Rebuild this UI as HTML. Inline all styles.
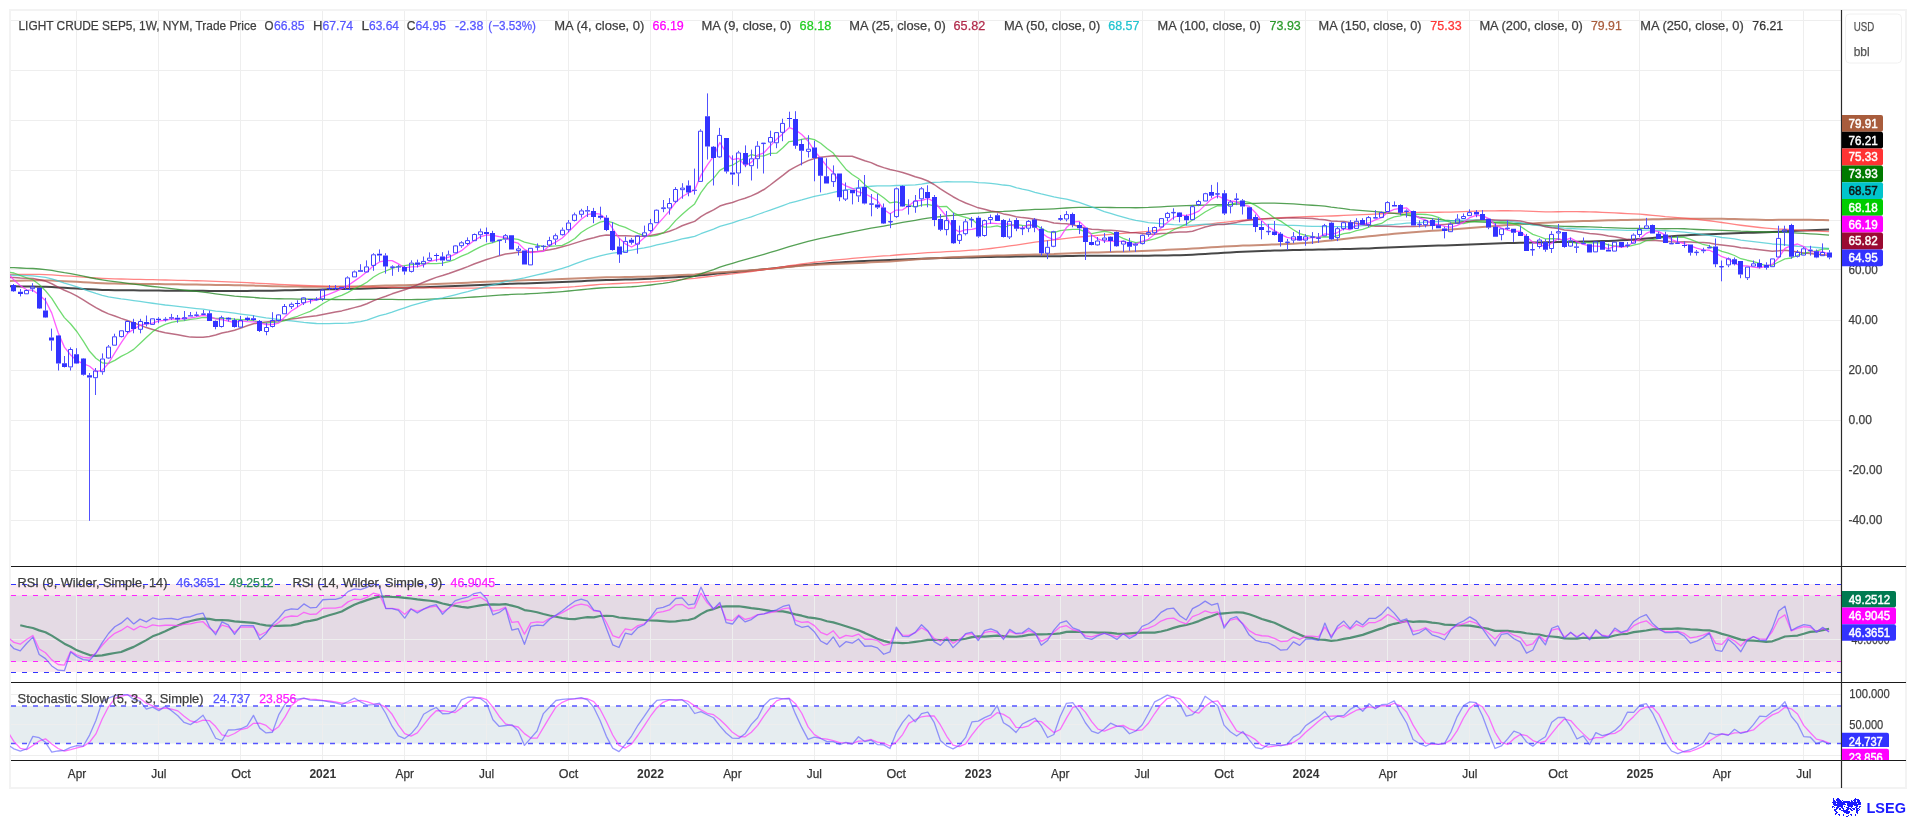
<!DOCTYPE html><html><head><meta charset="utf-8"><style>html,body{margin:0;padding:0;background:#fff;}svg{display:block;will-change:transform;}text{font-family:"Liberation Sans",sans-serif;}</style></head><body>
<svg width="1916" height="818" viewBox="0 0 1916 818">
<rect x="0" y="0" width="1916" height="818" fill="#fff"/>
<rect x="10" y="10" width="1896" height="778" fill="none" stroke="#f3f3f3" stroke-width="2"/>
<defs><clipPath id="pc"><rect x="10" y="11" width="1830" height="555"/></clipPath><clipPath id="rc"><rect x="10" y="567" width="1830" height="115"/></clipPath><clipPath id="sc"><rect x="10" y="683" width="1830" height="77"/></clipPath></defs>
<rect x="10" y="584" width="1831" height="88" fill="#f9eaf0"/>
<rect x="10" y="595.5" width="1831" height="66" fill="#e4dae4"/>
<rect x="10" y="706" width="1831" height="37.5" fill="#e6edf0"/>
<path d="M76.5,11V760M158.5,11V760M240.5,11V760M322.5,11V760M404.5,11V760M486.5,11V760M568.5,11V760M650.5,11V760M732.5,11V760M814.5,11V760M896.5,11V760M978.5,11V760M1060.5,11V760M1142.5,11V760M1224.5,11V760M1305.5,11V760M1387.5,11V760M1469.5,11V760M1558.5,11V760M1639.5,11V760M1721.5,11V760M1803.5,11V760" stroke="#eeeeee" stroke-width="1" fill="none"/>
<path d="M11,20.5H1841M11,70.5H1841M11,120.5H1841M11,170.5H1841M11,220.5H1841M11,269.5H1841M11,320.5H1841M11,370.5H1841M11,420.5H1841M11,470.5H1841M11,520.5H1841M11,639.5H1841M11,694.5H1841M11,724.5H1841M11,755.5H1841" stroke="#eeeeee" stroke-width="1" fill="none"/>
<path d="M11,584.5H1841M11,672.5H1841" stroke="#3333ff" stroke-width="1" stroke-dasharray="5,6" fill="none"/>
<path d="M11,595.5H1841M11,661.5H1841" stroke="#ff22ff" stroke-width="1" stroke-dasharray="5,6" fill="none"/>
<path d="M11,706H1841M11,743.5H1841" stroke="#5555ff" stroke-width="1.3" stroke-dasharray="5,6" fill="none"/>
<g clip-path="url(#pc)" fill="none" stroke-linejoin="round">
<path d="M7.67,286.32 L13.97,286.35 L20.27,286.39 L26.57,286.42 L32.88,286.48 L39.18,286.63 L45.48,286.81 L51.78,287.09 L58.09,287.46 L64.39,287.85 L70.69,288.17 L76.99,288.54 L83.30,288.96 L89.60,289.30 L95.90,289.61 L102.20,289.88 L108.51,290.10 L114.81,290.19 L121.11,290.26 L127.41,290.30 L133.72,290.37 L140.02,290.40 L146.32,290.48 L152.62,290.53 L158.93,290.58 L165.23,290.63 L171.53,290.69 L177.83,290.75 L184.13,290.81 L190.44,290.86 L196.74,290.86 L203.04,290.86 L209.34,290.89 L215.65,290.94 L221.95,290.96 L228.25,290.93 L234.55,290.93 L240.86,290.91 L247.16,290.88 L253.46,290.80 L259.76,290.76 L266.07,290.71 L272.37,290.63 L278.67,290.51 L284.97,290.36 L291.28,290.20 L297.58,290.04 L303.88,289.86 L310.18,289.75 L316.49,289.65 L322.79,289.50 L329.09,289.36 L335.39,289.24 L341.69,289.12 L348.00,288.96 L354.30,288.77 L360.60,288.65 L366.90,288.50 L373.21,288.31 L379.51,288.12 L385.81,287.98 L392.11,287.85 L398.42,287.73 L404.72,287.63 L411.02,287.49 L417.32,287.31 L423.63,287.13 L429.93,286.93 L436.23,286.72 L442.53,286.53 L448.84,286.32 L455.14,286.07 L461.44,285.81 L467.74,285.54 L474.05,285.25 L480.35,284.94 L486.65,284.65 L492.95,284.40 L499.25,284.17 L505.56,283.94 L511.86,283.75 L518.16,283.57 L524.46,283.44 L530.77,283.22 L537.07,282.98 L543.37,282.74 L549.67,282.48 L555.98,282.27 L562.28,282.03 L568.58,281.76 L574.88,281.46 L581.19,281.15 L587.49,280.84 L593.79,280.56 L600.09,280.27 L606.40,280.04 L612.70,279.90 L619.00,279.77 L625.30,279.59 L631.61,279.42 L637.91,279.18 L644.21,278.92 L650.51,278.63 L656.81,278.28 L663.12,277.94 L669.42,277.59 L675.72,277.18 L682.02,276.76 L688.33,276.34 L694.63,275.91 L700.93,275.24 L707.23,274.63 L713.54,274.07 L719.84,273.38 L726.14,272.84 L732.44,272.32 L738.75,271.70 L745.05,271.14 L751.35,270.57 L757.65,269.94 L763.96,269.30 L770.26,268.63 L776.56,267.96 L782.86,267.26 L789.17,266.53 L795.47,265.92 L801.77,265.34 L808.07,264.76 L814.37,264.21 L820.68,263.73 L826.98,263.30 L833.28,262.83 L839.58,262.46 L845.89,262.06 L852.19,261.67 L858.49,261.31 L864.79,261.01 L871.10,260.71 L877.40,260.43 L883.70,260.22 L890.00,260.01 L896.31,259.66 L902.61,259.39 L908.91,259.17 L915.21,258.94 L921.52,258.65 L927.82,258.40 L934.12,258.24 L940.42,258.10 L946.73,257.93 L953.03,257.84 L959.33,257.72 L965.63,257.56 L971.93,257.38 L978.24,257.28 L984.54,257.11 L990.84,256.96 L997.14,256.83 L1003.45,256.76 L1009.75,256.63 L1016.05,256.53 L1022.35,256.46 L1028.66,256.37 L1034.96,256.30 L1041.26,256.34 L1047.56,256.33 L1053.87,256.25 L1060.17,256.13 L1066.47,255.98 L1072.77,255.91 L1079.08,255.86 L1085.38,255.86 L1091.68,255.87 L1097.98,255.86 L1104.29,255.82 L1110.59,255.78 L1116.89,255.77 L1123.19,255.74 L1129.49,255.75 L1135.80,255.75 L1142.10,255.71 L1148.40,255.66 L1154.70,255.60 L1161.01,255.50 L1167.31,255.38 L1173.61,255.26 L1179.91,255.16 L1186.22,254.93 L1192.52,254.65 L1198.82,254.35 L1205.12,254.01 L1211.43,253.61 L1217.73,253.20 L1224.03,252.87 L1230.33,252.49 L1236.64,252.10 L1242.94,251.77 L1249.24,251.48 L1255.54,251.22 L1261.85,250.98 L1268.15,250.77 L1274.45,250.59 L1280.75,250.43 L1287.05,250.26 L1293.36,250.11 L1299.66,249.98 L1305.96,249.83 L1312.26,249.68 L1318.57,249.59 L1324.87,249.45 L1331.17,249.37 L1337.47,249.24 L1343.78,249.09 L1350.08,248.94 L1356.38,248.75 L1362.68,248.58 L1368.99,248.38 L1375.29,248.12 L1381.59,247.83 L1387.89,247.51 L1394.20,247.21 L1400.50,246.95 L1406.80,246.69 L1413.10,246.49 L1419.41,246.28 L1425.71,246.06 L1432.01,245.83 L1438.31,245.61 L1444.61,245.40 L1450.92,245.17 L1457.22,244.93 L1463.52,244.66 L1469.82,244.41 L1476.13,244.15 L1482.43,243.88 L1488.73,243.66 L1495.03,243.47 L1501.34,243.27 L1507.64,243.07 L1513.94,242.89 L1520.24,242.73 L1526.55,242.64 L1532.85,242.51 L1539.15,242.38 L1545.45,242.30 L1551.76,242.16 L1558.06,242.03 L1564.36,241.97 L1570.66,241.84 L1576.97,241.74 L1583.27,241.57 L1589.57,241.42 L1595.87,241.21 L1602.17,241.05 L1608.48,240.91 L1614.78,240.64 L1621.08,240.36 L1627.38,239.98 L1633.69,239.46 L1639.99,238.91 L1646.29,238.41 L1652.59,237.89 L1658.90,237.35 L1665.20,236.81 L1671.50,236.30 L1677.80,235.84 L1684.11,235.43 L1690.41,235.10 L1696.71,234.78 L1703.01,234.50 L1709.32,234.17 L1715.62,233.94 L1721.92,233.71 L1728.22,233.47 L1734.53,233.25 L1740.83,233.07 L1747.13,232.86 L1753.43,232.64 L1759.73,232.44 L1766.04,232.24 L1772.34,232.02 L1778.64,231.72 L1784.94,231.35 L1791.25,231.07 L1797.55,230.81 L1803.85,230.52 L1810.15,230.21 L1816.46,229.96 L1822.76,229.69 L1829.06,229.44" stroke="#333333" stroke-width="2.0" stroke-opacity="0.9"/>
<path d="M7.67,280.98 L13.97,280.80 L20.27,280.69 L26.57,280.55 L32.88,280.39 L39.18,280.35 L45.48,280.42 L51.78,280.61 L58.09,280.91 L64.39,281.24 L70.69,281.47 L76.99,281.80 L83.30,282.18 L89.60,282.58 L95.90,282.95 L102.20,283.20 L108.51,283.40 L114.81,283.54 L121.11,283.65 L127.41,283.72 L133.72,283.82 L140.02,283.89 L146.32,283.97 L152.62,284.03 L158.93,284.09 L165.23,284.15 L171.53,284.21 L177.83,284.28 L184.13,284.39 L190.44,284.50 L196.74,284.60 L203.04,284.69 L209.34,284.82 L215.65,284.93 L221.95,284.99 L228.25,285.06 L234.55,285.16 L240.86,285.32 L247.16,285.47 L253.46,285.62 L259.76,285.83 L266.07,286.02 L272.37,286.18 L278.67,286.31 L284.97,286.40 L291.28,286.48 L297.58,286.57 L303.88,286.63 L310.18,286.70 L316.49,286.76 L322.79,286.73 L329.09,286.69 L335.39,286.66 L341.69,286.61 L348.00,286.54 L354.30,286.44 L360.60,286.34 L366.90,286.21 L373.21,285.99 L379.51,285.78 L385.81,285.62 L392.11,285.46 L398.42,285.30 L404.72,285.13 L411.02,284.91 L417.32,284.70 L423.63,284.47 L429.93,284.24 L436.23,284.01 L442.53,283.80 L448.84,283.55 L455.14,283.27 L461.44,282.98 L467.74,282.68 L474.05,282.35 L480.35,282.01 L486.65,281.71 L492.95,281.44 L499.25,281.17 L505.56,280.87 L511.86,280.66 L518.16,280.45 L524.46,280.32 L530.77,280.11 L537.07,279.89 L543.37,279.73 L549.67,279.54 L555.98,279.33 L562.28,279.08 L568.58,278.82 L574.88,278.52 L581.19,278.20 L587.49,277.88 L593.79,277.67 L600.09,277.45 L606.40,277.30 L612.70,277.25 L619.00,277.22 L625.30,277.11 L631.61,277.00 L637.91,276.86 L644.21,276.70 L650.51,276.50 L656.81,276.24 L663.12,275.96 L669.42,275.66 L675.72,275.34 L682.02,275.01 L688.33,274.70 L694.63,274.38 L700.93,273.77 L707.23,273.28 L713.54,272.85 L719.84,272.30 L726.14,271.93 L732.44,271.56 L738.75,271.07 L745.05,270.64 L751.35,270.19 L757.65,269.70 L763.96,269.21 L770.26,268.68 L776.56,268.13 L782.86,267.54 L789.17,266.88 L795.47,266.37 L801.77,265.87 L808.07,265.37 L814.37,264.94 L820.68,264.60 L826.98,264.30 L833.28,263.94 L839.58,263.72 L845.89,263.45 L852.19,263.21 L858.49,262.93 L864.79,262.74 L871.10,262.37 L877.40,262.02 L883.70,261.75 L890.00,261.47 L896.31,260.94 L902.61,260.49 L908.91,260.05 L915.21,259.57 L921.52,259.03 L927.82,258.57 L934.12,258.21 L940.42,257.91 L946.73,257.55 L953.03,257.36 L959.33,257.12 L965.63,256.82 L971.93,256.50 L978.24,256.31 L984.54,256.04 L990.84,255.76 L997.14,255.49 L1003.45,255.38 L1009.75,255.19 L1016.05,255.03 L1022.35,254.87 L1028.66,254.68 L1034.96,254.48 L1041.26,254.41 L1047.56,254.30 L1053.87,254.12 L1060.17,253.80 L1066.47,253.46 L1072.77,253.17 L1079.08,252.89 L1085.38,252.72 L1091.68,252.57 L1097.98,252.39 L1104.29,252.20 L1110.59,252.02 L1116.89,251.84 L1123.19,251.63 L1129.49,251.44 L1135.80,251.25 L1142.10,251.03 L1148.40,250.78 L1154.70,250.55 L1161.01,250.24 L1167.31,249.87 L1173.61,249.51 L1179.91,249.17 L1186.22,248.88 L1192.52,248.52 L1198.82,248.14 L1205.12,247.73 L1211.43,247.34 L1217.73,246.89 L1224.03,246.60 L1230.33,246.26 L1236.64,245.91 L1242.94,245.62 L1249.24,245.41 L1255.54,245.18 L1261.85,244.96 L1268.15,244.70 L1274.45,244.42 L1280.75,244.16 L1287.05,243.91 L1293.36,243.66 L1299.66,243.32 L1305.96,242.92 L1312.26,242.40 L1318.57,241.77 L1324.87,241.06 L1331.17,240.51 L1337.47,239.83 L1343.78,239.07 L1350.08,238.33 L1356.38,237.58 L1362.68,236.91 L1368.99,236.26 L1375.29,235.67 L1381.59,235.08 L1387.89,234.48 L1394.20,233.87 L1400.50,233.33 L1406.80,232.76 L1413.10,232.30 L1419.41,231.82 L1425.71,231.32 L1432.01,230.86 L1438.31,230.40 L1444.61,229.97 L1450.92,229.51 L1457.22,229.03 L1463.52,228.54 L1469.82,228.00 L1476.13,227.44 L1482.43,226.95 L1488.73,226.49 L1495.03,226.04 L1501.34,225.58 L1507.64,225.12 L1513.94,224.68 L1520.24,224.21 L1526.55,223.83 L1532.85,223.47 L1539.15,223.10 L1545.45,222.82 L1551.76,222.47 L1558.06,222.10 L1564.36,221.85 L1570.66,221.55 L1576.97,221.30 L1583.27,221.07 L1589.57,220.88 L1595.87,220.64 L1602.17,220.46 L1608.48,220.33 L1614.78,220.18 L1621.08,220.06 L1627.38,219.95 L1633.69,219.85 L1639.99,219.72 L1646.29,219.51 L1652.59,219.35 L1658.90,219.21 L1665.20,219.06 L1671.50,218.96 L1677.80,218.85 L1684.11,218.78 L1690.41,218.75 L1696.71,218.73 L1703.01,218.68 L1709.32,218.64 L1715.62,218.73 L1721.92,218.85 L1728.22,218.94 L1734.53,219.09 L1740.83,219.31 L1747.13,219.47 L1753.43,219.58 L1759.73,219.72 L1766.04,219.88 L1772.34,219.93 L1778.64,219.87 L1784.94,219.70 L1791.25,219.74 L1797.55,219.77 L1803.85,219.78 L1810.15,219.83 L1816.46,219.94 L1822.76,220.05 L1829.06,220.23" stroke="#c07a62" stroke-width="2.0" stroke-opacity="0.85"/>
<path d="M7.67,274.44 L13.97,274.40 L20.27,274.39 L26.57,274.35 L32.88,274.31 L39.18,274.42 L45.48,274.59 L51.78,274.92 L58.09,275.35 L64.39,275.81 L70.69,276.15 L76.99,276.59 L83.30,277.10 L89.60,277.57 L95.90,278.00 L102.20,278.34 L108.51,278.61 L114.81,278.83 L121.11,279.01 L127.41,279.13 L133.72,279.31 L140.02,279.43 L146.32,279.59 L152.62,279.72 L158.93,279.85 L165.23,279.98 L171.53,280.14 L177.83,280.30 L184.13,280.45 L190.44,280.59 L196.74,280.75 L203.04,280.91 L209.34,281.11 L215.65,281.35 L221.95,281.53 L228.25,281.81 L234.55,282.13 L240.86,282.41 L247.16,282.69 L253.46,283.00 L259.76,283.37 L266.07,283.72 L272.37,284.02 L278.67,284.38 L284.97,284.69 L291.28,284.98 L297.58,285.27 L303.88,285.52 L310.18,285.75 L316.49,285.98 L322.79,286.15 L329.09,286.32 L335.39,286.50 L341.69,286.66 L348.00,286.75 L354.30,286.81 L360.60,286.93 L366.90,287.02 L373.21,287.02 L379.51,287.03 L385.81,287.11 L392.11,287.26 L398.42,287.41 L404.72,287.59 L411.02,287.71 L417.32,287.81 L423.63,287.89 L429.93,287.94 L436.23,287.98 L442.53,288.10 L448.84,288.19 L455.14,288.21 L461.44,288.21 L467.74,288.20 L474.05,288.10 L480.35,287.98 L486.65,287.88 L492.95,287.83 L499.25,287.80 L505.56,287.74 L511.86,287.78 L518.16,287.80 L524.46,287.95 L530.77,287.99 L537.07,288.01 L543.37,288.04 L549.67,288.02 L555.98,287.74 L562.28,287.43 L568.58,287.07 L574.88,286.65 L581.19,286.08 L587.49,285.52 L593.79,284.99 L600.09,284.47 L606.40,284.03 L612.70,283.76 L619.00,283.52 L625.30,283.18 L631.61,282.86 L637.91,282.55 L644.21,282.22 L650.51,281.83 L656.81,281.34 L663.12,280.90 L669.42,280.43 L675.72,279.86 L682.02,279.28 L688.33,278.84 L694.63,278.38 L700.93,277.51 L707.23,276.76 L713.54,276.08 L719.84,275.20 L726.14,274.56 L732.44,273.94 L738.75,273.17 L745.05,272.38 L751.35,271.55 L757.65,270.64 L763.96,269.70 L770.26,268.78 L776.56,267.82 L782.86,266.80 L789.17,265.75 L795.47,264.88 L801.77,264.00 L808.07,263.10 L814.37,262.26 L820.68,261.56 L826.98,260.92 L833.28,260.20 L839.58,259.68 L845.89,259.08 L852.19,258.46 L858.49,257.82 L864.79,257.28 L871.10,256.78 L877.40,256.31 L883.70,255.95 L890.00,255.59 L896.31,255.01 L902.61,254.51 L908.91,254.08 L915.21,253.62 L921.52,253.09 L927.82,252.64 L934.12,252.36 L940.42,252.08 L946.73,251.72 L953.03,251.45 L959.33,251.07 L965.63,250.59 L971.93,250.11 L978.24,249.78 L984.54,249.19 L990.84,248.52 L997.14,247.73 L1003.45,246.88 L1009.75,245.91 L1016.05,245.11 L1022.35,244.20 L1028.66,243.18 L1034.96,242.18 L1041.26,241.40 L1047.56,240.65 L1053.87,239.88 L1060.17,239.10 L1066.47,238.32 L1072.77,237.68 L1079.08,237.01 L1085.38,236.48 L1091.68,235.95 L1097.98,235.43 L1104.29,234.88 L1110.59,234.36 L1116.89,233.88 L1123.19,233.36 L1129.49,232.89 L1135.80,232.40 L1142.10,231.87 L1148.40,231.33 L1154.70,230.70 L1161.01,229.98 L1167.31,229.28 L1173.61,228.56 L1179.91,227.83 L1186.22,227.17 L1192.52,226.41 L1198.82,225.61 L1205.12,224.69 L1211.43,223.82 L1217.73,222.97 L1224.03,222.30 L1230.33,221.60 L1236.64,220.90 L1242.94,220.25 L1249.24,219.73 L1255.54,219.25 L1261.85,218.79 L1268.15,218.39 L1274.45,218.04 L1280.75,217.72 L1287.05,217.42 L1293.36,217.15 L1299.66,216.94 L1305.96,216.70 L1312.26,216.50 L1318.57,216.39 L1324.87,216.19 L1331.17,216.01 L1337.47,215.75 L1343.78,215.45 L1350.08,215.17 L1356.38,214.89 L1362.68,214.63 L1368.99,214.34 L1375.29,214.07 L1381.59,213.77 L1387.89,213.38 L1394.20,213.06 L1400.50,212.85 L1406.80,212.63 L1413.10,212.54 L1419.41,212.47 L1425.71,212.39 L1432.01,212.34 L1438.31,212.25 L1444.61,212.19 L1450.92,212.12 L1457.22,211.91 L1463.52,211.69 L1469.82,211.34 L1476.13,211.12 L1482.43,210.95 L1488.73,210.82 L1495.03,210.80 L1501.34,210.75 L1507.64,210.74 L1513.94,210.81 L1520.24,210.95 L1526.55,211.22 L1532.85,211.47 L1539.15,211.62 L1545.45,211.83 L1551.76,211.86 L1558.06,211.74 L1564.36,211.69 L1570.66,211.68 L1576.97,211.72 L1583.27,211.77 L1589.57,211.90 L1595.87,212.02 L1602.17,212.29 L1608.48,212.58 L1614.78,212.84 L1621.08,213.23 L1627.38,213.61 L1633.69,213.89 L1639.99,214.14 L1646.29,214.77 L1652.59,215.35 L1658.90,215.89 L1665.20,216.61 L1671.50,217.09 L1677.80,217.54 L1684.11,218.17 L1690.41,218.75 L1696.71,219.38 L1703.01,220.07 L1709.32,220.77 L1715.62,221.61 L1721.92,222.51 L1728.22,223.41 L1734.53,224.38 L1740.83,225.24 L1747.13,226.01 L1753.43,226.77 L1759.73,227.50 L1766.04,228.12 L1772.34,228.62 L1778.64,229.05 L1784.94,229.26 L1791.25,229.71 L1797.55,230.10 L1803.85,230.50 L1810.15,230.81 L1816.46,231.17 L1822.76,231.47 L1829.06,231.70" stroke="#ff5050" stroke-width="1.3" stroke-opacity="0.7"/>
<path d="M7.67,267.43 L13.97,267.70 L20.27,268.01 L26.57,268.29 L32.88,268.52 L39.18,268.98 L45.48,269.61 L51.78,270.48 L58.09,271.58 L64.39,272.71 L70.69,273.67 L76.99,274.86 L83.30,276.16 L89.60,277.49 L95.90,278.75 L102.20,279.84 L108.51,280.80 L114.81,281.67 L121.11,282.48 L127.41,283.27 L133.72,284.14 L140.02,284.93 L146.32,285.75 L152.62,286.51 L158.93,287.22 L165.23,287.91 L171.53,288.61 L177.83,289.31 L184.13,290.04 L190.44,290.77 L196.74,291.47 L203.04,292.16 L209.34,292.95 L215.65,293.79 L221.95,294.54 L228.25,295.31 L234.55,296.15 L240.86,296.58 L247.16,297.01 L253.46,297.45 L259.76,297.98 L266.07,298.30 L272.37,298.54 L278.67,298.73 L284.97,298.83 L291.28,298.91 L297.58,299.04 L303.88,299.10 L310.18,299.19 L316.49,299.27 L322.79,299.34 L329.09,299.41 L335.39,299.48 L341.69,299.53 L348.00,299.56 L354.30,299.54 L360.60,299.51 L366.90,299.44 L373.21,299.38 L379.51,299.34 L385.81,299.41 L392.11,299.47 L398.42,299.55 L404.72,299.59 L411.02,299.54 L417.32,299.51 L423.63,299.45 L429.93,299.19 L436.23,298.93 L442.53,298.70 L448.84,298.42 L455.14,298.12 L461.44,297.78 L467.74,297.42 L474.05,297.00 L480.35,296.55 L486.65,296.06 L492.95,295.65 L499.25,295.21 L505.56,294.74 L511.86,294.46 L518.16,294.12 L524.46,294.02 L530.77,293.70 L537.07,293.29 L543.37,292.93 L549.67,292.48 L555.98,292.05 L562.28,291.56 L568.58,291.02 L574.88,290.41 L581.19,289.76 L587.49,289.06 L593.79,288.52 L600.09,288.00 L606.40,287.61 L612.70,287.46 L619.00,287.39 L625.30,287.08 L631.61,286.77 L637.91,286.29 L644.21,285.70 L650.51,284.99 L656.81,284.19 L663.12,283.40 L669.42,282.34 L675.72,281.06 L682.02,279.53 L688.33,277.82 L694.63,276.06 L700.93,273.87 L707.23,271.70 L713.54,269.53 L719.84,267.11 L726.14,265.12 L732.44,263.28 L738.75,261.33 L745.05,259.62 L751.35,257.90 L757.65,256.14 L763.96,254.28 L770.26,252.44 L776.56,250.52 L782.86,248.56 L789.17,246.55 L795.47,244.82 L801.77,243.14 L808.07,241.44 L814.37,239.84 L820.68,238.43 L826.98,237.12 L833.28,235.72 L839.58,234.49 L845.89,233.11 L852.19,231.87 L858.49,230.56 L864.79,229.32 L871.10,228.16 L877.40,227.03 L883.70,226.06 L890.00,224.96 L896.31,223.58 L902.61,222.44 L908.91,221.37 L915.21,220.31 L921.52,219.16 L927.82,218.10 L934.12,217.32 L940.42,216.63 L946.73,215.84 L953.03,215.38 L959.33,214.83 L965.63,214.15 L971.93,213.47 L978.24,213.06 L984.54,212.55 L990.84,212.00 L997.14,211.55 L1003.45,211.38 L1009.75,211.03 L1016.05,210.66 L1022.35,210.27 L1028.66,209.81 L1034.96,209.37 L1041.26,209.28 L1047.56,209.10 L1053.87,208.80 L1060.17,208.40 L1066.47,207.98 L1072.77,207.63 L1079.08,207.37 L1085.38,207.33 L1091.68,207.36 L1097.98,207.36 L1104.29,207.40 L1110.59,207.49 L1116.89,207.62 L1123.19,207.60 L1129.49,207.67 L1135.80,207.76 L1142.10,207.61 L1148.40,207.45 L1154.70,207.07 L1161.01,206.78 L1167.31,206.44 L1173.61,206.10 L1179.91,205.87 L1186.22,205.72 L1192.52,205.48 L1198.82,205.27 L1205.12,205.05 L1211.43,204.91 L1217.73,204.72 L1224.03,204.69 L1230.33,204.53 L1236.64,204.21 L1242.94,203.77 L1249.24,203.42 L1255.54,203.28 L1261.85,203.15 L1268.15,203.11 L1274.45,203.14 L1280.75,203.32 L1287.05,203.64 L1293.36,203.93 L1299.66,204.31 L1305.96,204.78 L1312.26,205.27 L1318.57,205.72 L1324.87,206.06 L1331.17,207.15 L1337.47,207.97 L1343.78,208.61 L1350.08,209.55 L1356.38,210.05 L1362.68,210.55 L1368.99,211.20 L1375.29,211.72 L1381.59,212.26 L1387.89,212.82 L1394.20,213.46 L1400.50,214.22 L1406.80,215.00 L1413.10,216.03 L1419.41,217.08 L1425.71,217.82 L1432.01,218.58 L1438.31,219.37 L1444.61,220.10 L1450.92,220.58 L1457.22,220.93 L1463.52,221.36 L1469.82,221.51 L1476.13,221.76 L1482.43,222.03 L1488.73,222.42 L1495.03,222.76 L1501.34,223.01 L1507.64,223.21 L1513.94,223.30 L1520.24,223.45 L1526.55,224.08 L1532.85,224.50 L1539.15,224.83 L1545.45,225.32 L1551.76,225.78 L1558.06,226.11 L1564.36,226.38 L1570.66,226.48 L1576.97,226.76 L1583.27,226.76 L1589.57,226.94 L1595.87,227.14 L1602.17,227.45 L1608.48,227.60 L1614.78,227.81 L1621.08,228.11 L1627.38,228.35 L1633.69,228.32 L1639.99,228.40 L1646.29,228.37 L1652.59,228.43 L1658.90,228.61 L1665.20,228.76 L1671.50,228.65 L1677.80,228.61 L1684.11,228.76 L1690.41,229.10 L1696.71,229.48 L1703.01,229.73 L1709.32,229.91 L1715.62,230.14 L1721.92,230.35 L1728.22,230.53 L1734.53,230.79 L1740.83,231.13 L1747.13,231.33 L1753.43,231.56 L1759.73,231.76 L1766.04,232.01 L1772.34,232.24 L1778.64,232.30 L1784.94,232.32 L1791.25,232.71 L1797.55,233.10 L1803.85,233.47 L1810.15,233.79 L1816.46,234.16 L1822.76,234.62 L1829.06,235.19" stroke="#2a8a2a" stroke-width="1.3" stroke-opacity="0.8"/>
<path d="M7.67,275.08 L13.97,275.26 L20.27,275.50 L26.57,275.66 L32.88,275.91 L39.18,276.60 L45.48,277.46 L51.78,278.79 L58.09,280.87 L64.39,283.02 L70.69,284.80 L76.99,286.88 L83.30,289.18 L89.60,291.38 L95.90,293.44 L102.20,295.26 L108.51,296.84 L114.81,297.91 L121.11,298.86 L127.41,299.63 L133.72,300.55 L140.02,301.45 L146.32,302.42 L152.62,303.26 L158.93,304.14 L165.23,305.00 L171.53,305.70 L177.83,306.44 L184.13,307.11 L190.44,307.80 L196.74,308.53 L203.04,309.15 L209.34,310.08 L215.65,311.03 L221.95,311.62 L228.25,312.35 L234.55,313.19 L240.86,314.04 L247.16,314.86 L253.46,315.73 L259.76,316.84 L266.07,317.88 L272.37,318.65 L278.67,319.51 L284.97,320.24 L291.28,320.94 L297.58,321.72 L303.88,322.43 L310.18,322.98 L316.49,323.50 L322.79,323.61 L329.09,323.56 L335.39,323.46 L341.69,323.40 L348.00,323.22 L354.30,322.48 L360.60,321.57 L366.90,320.08 L373.21,317.90 L379.51,315.67 L385.81,314.01 L392.11,312.07 L398.42,309.92 L404.72,307.80 L411.02,305.64 L417.32,303.77 L423.63,302.05 L429.93,300.48 L436.23,298.99 L442.53,297.78 L448.84,296.29 L455.14,294.78 L461.44,293.14 L467.74,291.58 L474.05,289.86 L480.35,288.11 L486.65,286.42 L492.95,284.86 L499.25,283.31 L505.56,281.68 L511.86,280.39 L518.16,279.09 L524.46,277.96 L530.77,276.37 L537.07,274.95 L543.37,273.50 L549.67,271.76 L555.98,270.07 L562.28,268.26 L568.58,266.31 L574.88,263.98 L581.19,261.64 L587.49,259.48 L593.79,257.53 L600.09,255.76 L606.40,254.28 L612.70,253.20 L619.00,252.34 L625.30,251.17 L631.61,250.05 L637.91,248.97 L644.21,247.83 L650.51,246.52 L656.81,244.97 L663.12,243.57 L669.42,242.20 L675.72,240.55 L682.02,238.97 L688.33,237.74 L694.63,236.44 L700.93,233.73 L707.23,231.33 L713.54,229.14 L719.84,226.41 L726.14,224.59 L732.44,222.78 L738.75,220.61 L745.05,218.75 L751.35,216.80 L757.65,214.50 L763.96,212.26 L770.26,210.10 L776.56,207.89 L782.86,205.55 L789.17,203.24 L795.47,201.53 L801.77,199.87 L808.07,198.01 L814.37,196.37 L820.68,195.18 L826.98,193.86 L833.28,192.36 L839.58,191.01 L845.89,189.85 L852.19,188.79 L858.49,187.61 L864.79,186.88 L871.10,186.24 L877.40,185.80 L883.70,185.82 L890.00,185.95 L896.31,185.51 L902.61,185.41 L908.91,185.20 L915.21,184.86 L921.52,184.03 L927.82,182.99 L934.12,182.30 L940.42,182.08 L946.73,181.63 L953.03,181.78 L959.33,181.82 L965.63,181.78 L971.93,181.97 L978.24,182.55 L984.54,182.90 L990.84,183.46 L997.14,184.13 L1003.45,185.02 L1009.75,185.62 L1016.05,187.58 L1022.35,189.21 L1028.66,190.47 L1034.96,192.33 L1041.26,193.96 L1047.56,195.41 L1053.87,196.98 L1060.17,198.06 L1066.47,199.17 L1072.77,200.75 L1079.08,202.47 L1085.38,204.57 L1091.68,206.82 L1097.98,209.17 L1104.29,211.55 L1110.59,213.45 L1116.89,215.36 L1123.19,217.20 L1129.49,218.98 L1135.80,220.34 L1142.10,221.36 L1148.40,222.54 L1154.70,223.13 L1161.01,223.70 L1167.31,224.09 L1173.61,224.58 L1179.91,224.85 L1186.22,225.19 L1192.52,225.16 L1198.82,224.71 L1205.12,224.16 L1211.43,224.31 L1217.73,224.04 L1224.03,224.17 L1230.33,224.19 L1236.64,224.39 L1242.94,224.56 L1249.24,224.54 L1255.54,224.49 L1261.85,224.68 L1268.15,224.43 L1274.45,224.45 L1280.75,224.86 L1287.05,225.32 L1293.36,225.31 L1299.66,225.72 L1305.96,226.11 L1312.26,226.41 L1318.57,226.42 L1324.87,226.50 L1331.17,226.71 L1337.47,226.72 L1343.78,226.75 L1350.08,226.78 L1356.38,226.13 L1362.68,225.69 L1368.99,225.41 L1375.29,225.39 L1381.59,225.35 L1387.89,224.89 L1394.20,224.46 L1400.50,223.87 L1406.80,223.19 L1413.10,222.89 L1419.41,222.61 L1425.71,222.19 L1432.01,221.79 L1438.31,221.54 L1444.61,221.23 L1450.92,220.83 L1457.22,220.51 L1463.52,220.19 L1469.82,219.89 L1476.13,219.82 L1482.43,219.96 L1488.73,220.27 L1495.03,220.66 L1501.34,220.83 L1507.64,221.26 L1513.94,221.89 L1520.24,222.74 L1526.55,223.85 L1532.85,224.96 L1539.15,225.49 L1545.45,226.45 L1551.76,227.16 L1558.06,227.66 L1564.36,228.21 L1570.66,228.48 L1576.97,228.84 L1583.27,229.08 L1589.57,229.43 L1595.87,229.42 L1602.17,229.58 L1608.48,229.89 L1614.78,229.91 L1621.08,230.12 L1627.38,230.28 L1633.69,230.23 L1639.99,230.30 L1646.29,230.03 L1652.59,230.13 L1658.90,230.46 L1665.20,230.74 L1671.50,231.18 L1677.80,231.53 L1684.11,232.10 L1690.41,232.82 L1696.71,233.61 L1703.01,234.56 L1709.32,235.37 L1715.62,236.40 L1721.92,237.51 L1728.22,238.17 L1734.53,238.98 L1740.83,240.07 L1747.13,240.88 L1753.43,241.58 L1759.73,242.30 L1766.04,243.18 L1772.34,243.98 L1778.64,244.42 L1784.94,244.76 L1791.25,245.61 L1797.55,246.25 L1803.85,246.66 L1810.15,246.92 L1816.46,247.50 L1822.76,247.99 L1829.06,248.48" stroke="#40c8d0" stroke-width="1.3" stroke-opacity="0.75"/>
<path d="M7.67,277.28 L13.97,277.60 L20.27,278.07 L26.57,278.31 L32.88,278.49 L39.18,279.70 L45.48,281.10 L51.78,283.75 L58.09,287.10 L64.39,290.28 L70.69,292.93 L76.99,296.07 L83.30,299.95 L89.60,303.89 L95.90,307.66 L102.20,310.99 L108.51,313.85 L114.81,316.03 L121.11,318.39 L127.41,320.44 L133.72,322.87 L140.02,325.10 L146.32,327.59 L152.62,329.45 L158.93,331.32 L165.23,332.71 L171.53,333.80 L177.83,334.82 L184.13,335.91 L190.44,337.12 L196.74,337.36 L203.04,337.20 L209.34,336.42 L215.65,334.95 L221.95,332.96 L228.25,331.78 L234.55,330.31 L240.86,328.12 L247.16,325.82 L253.46,323.80 L259.76,322.70 L266.07,321.92 L272.37,321.27 L278.67,320.63 L284.97,320.03 L291.28,319.02 L297.58,318.35 L303.88,317.27 L310.18,316.52 L316.49,315.68 L322.79,314.50 L329.09,313.32 L335.39,312.10 L341.69,310.89 L348.00,309.32 L354.30,307.60 L360.60,305.94 L366.90,303.75 L373.21,300.84 L379.51,298.37 L385.81,296.25 L392.11,293.83 L398.42,291.72 L404.72,289.78 L411.02,287.48 L417.32,284.83 L423.63,282.19 L429.93,279.69 L436.23,277.36 L442.53,275.54 L448.84,273.56 L455.14,271.21 L461.44,269.01 L467.74,266.64 L474.05,264.04 L480.35,261.71 L486.65,259.51 L492.95,257.62 L499.25,255.74 L505.56,254.05 L511.86,253.17 L518.16,252.24 L524.46,252.16 L530.77,251.90 L537.07,251.54 L543.37,250.75 L549.67,249.70 L555.98,248.41 L562.28,246.74 L568.58,245.14 L574.88,243.12 L581.19,241.10 L587.49,239.26 L593.79,237.70 L600.09,235.99 L606.40,235.01 L612.70,235.19 L619.00,235.68 L625.30,235.71 L631.61,236.06 L637.91,236.22 L644.21,236.15 L650.51,235.41 L656.81,234.21 L663.12,233.10 L669.42,231.24 L675.72,228.86 L682.02,225.78 L688.33,223.57 L694.63,221.35 L700.93,216.71 L707.23,212.96 L713.54,209.88 L719.84,206.08 L726.14,204.04 L732.44,202.45 L738.75,200.13 L745.05,198.24 L751.35,195.89 L757.65,193.01 L763.96,189.52 L770.26,185.00 L776.56,180.11 L782.86,175.39 L789.17,170.43 L795.47,166.84 L801.77,163.58 L808.07,160.60 L814.37,158.53 L820.68,157.27 L826.98,156.48 L833.28,155.86 L839.58,156.24 L845.89,156.13 L852.19,156.23 L858.49,158.51 L864.79,160.80 L871.10,162.61 L877.40,165.52 L883.70,167.60 L890.00,169.46 L896.31,170.89 L902.61,172.57 L908.91,174.52 L915.21,176.71 L921.52,178.54 L927.82,180.98 L934.12,184.50 L940.42,188.77 L946.73,192.82 L953.03,196.72 L959.33,200.06 L965.63,202.96 L971.93,205.40 L978.24,207.84 L984.54,209.31 L990.84,211.05 L997.14,212.01 L1003.45,213.90 L1009.75,215.01 L1016.05,216.65 L1022.35,217.62 L1028.66,218.32 L1034.96,219.14 L1041.26,220.33 L1047.56,221.36 L1053.87,223.08 L1060.17,223.54 L1066.47,223.83 L1072.77,224.80 L1079.08,226.40 L1085.38,228.16 L1091.68,229.15 L1097.98,229.58 L1104.29,230.28 L1110.59,230.18 L1116.89,230.66 L1123.19,231.44 L1129.49,232.55 L1135.80,232.83 L1142.10,233.42 L1148.40,234.02 L1154.70,234.26 L1161.01,233.50 L1167.31,233.18 L1173.61,232.50 L1179.91,232.08 L1186.22,232.05 L1192.52,231.18 L1198.82,229.10 L1205.12,226.95 L1211.43,225.54 L1217.73,224.54 L1224.03,224.52 L1230.33,223.58 L1236.64,222.39 L1242.94,220.97 L1249.24,219.94 L1255.54,219.40 L1261.85,219.09 L1268.15,218.68 L1274.45,218.24 L1280.75,218.29 L1287.05,218.08 L1293.36,217.79 L1299.66,218.02 L1305.96,218.19 L1312.26,218.56 L1318.57,219.34 L1324.87,219.83 L1331.17,220.92 L1337.47,221.37 L1343.78,221.45 L1350.08,222.37 L1356.38,223.16 L1362.68,224.43 L1368.99,225.28 L1375.29,226.24 L1381.59,226.18 L1387.89,226.20 L1394.20,226.53 L1400.50,226.78 L1406.80,226.43 L1413.10,226.38 L1419.41,226.13 L1425.71,225.70 L1432.01,225.34 L1438.31,224.79 L1444.61,224.38 L1450.92,223.87 L1457.22,222.99 L1463.52,222.18 L1469.82,221.21 L1476.13,220.30 L1482.43,220.09 L1488.73,219.62 L1495.03,219.96 L1501.34,220.21 L1507.64,220.14 L1513.94,220.62 L1520.24,221.06 L1526.55,222.42 L1532.85,223.69 L1539.15,224.79 L1545.45,226.70 L1551.76,227.80 L1558.06,228.54 L1564.36,230.00 L1570.66,230.58 L1576.97,231.55 L1583.27,232.45 L1589.57,233.52 L1595.87,234.04 L1602.17,234.78 L1608.48,235.90 L1614.78,236.82 L1621.08,238.06 L1627.38,239.36 L1633.69,240.16 L1639.99,240.52 L1646.29,240.43 L1652.59,240.30 L1658.90,240.72 L1665.20,241.33 L1671.50,241.74 L1677.80,242.00 L1684.11,241.79 L1690.41,241.94 L1696.71,242.43 L1703.01,242.42 L1709.32,242.94 L1715.62,244.26 L1721.92,245.02 L1728.22,245.75 L1734.53,246.40 L1740.83,247.68 L1747.13,248.24 L1753.43,249.12 L1759.73,249.82 L1766.04,250.47 L1772.34,251.14 L1778.64,250.78 L1784.94,250.17 L1791.25,251.06 L1797.55,251.98 L1803.85,252.89 L1810.15,253.54 L1816.46,254.28 L1822.76,254.64 L1829.06,255.23" stroke="#a03050" stroke-width="1.5" stroke-opacity="0.7"/>
<path d="M7.67,271.92 L13.97,273.00 L20.27,275.50 L26.57,277.76 L32.88,279.75 L39.18,284.55 L45.48,290.72 L51.78,298.34 L58.09,308.39 L64.39,317.61 L70.69,324.02 L76.99,331.76 L83.30,341.17 L89.60,351.31 L95.90,358.21 L102.20,362.78 L108.51,363.44 L114.81,360.41 L121.11,356.33 L127.41,353.22 L133.72,349.38 L140.02,343.41 L146.32,337.49 L152.62,331.69 L158.93,327.40 L165.23,324.32 L171.53,322.36 L177.83,321.14 L184.13,320.72 L190.44,319.34 L196.74,318.61 L203.04,317.39 L209.34,317.69 L215.65,318.48 L221.95,318.30 L228.25,318.39 L234.55,319.23 L240.86,319.54 L247.16,319.92 L253.46,320.56 L259.76,322.51 L266.07,323.18 L272.37,322.40 L278.67,322.09 L284.97,320.60 L291.28,318.02 L297.58,316.26 L303.88,313.74 L310.18,311.44 L316.49,307.89 L322.79,303.72 L329.09,300.28 L335.39,297.46 L341.69,295.32 L348.00,292.39 L354.30,288.76 L360.60,285.90 L366.90,282.23 L373.21,277.28 L379.51,273.49 L385.81,270.98 L392.11,268.47 L398.42,266.30 L404.72,265.63 L411.02,264.66 L417.32,263.89 L423.63,263.28 L429.93,263.64 L436.23,263.71 L442.53,263.06 L448.84,261.72 L455.14,259.29 L461.44,256.06 L467.74,253.56 L474.05,250.13 L480.35,246.84 L486.65,244.22 L492.95,242.64 L499.25,240.32 L505.56,238.19 L511.86,238.64 L518.16,239.32 L524.46,242.03 L530.77,243.57 L537.07,245.22 L543.37,246.63 L549.67,246.44 L555.98,245.96 L562.28,245.34 L568.58,242.34 L574.88,238.56 L581.19,232.54 L587.49,228.52 L593.79,225.28 L600.09,222.06 L606.40,220.92 L612.70,222.57 L619.00,225.31 L625.30,227.36 L631.61,230.51 L637.91,233.29 L644.21,235.59 L650.51,236.28 L656.81,235.39 L663.12,232.88 L669.42,227.66 L675.72,220.39 L682.02,214.47 L688.33,208.89 L694.63,203.92 L700.93,192.63 L707.23,184.10 L713.54,178.36 L719.84,170.31 L726.14,166.80 L732.44,165.19 L738.75,161.28 L745.05,158.16 L751.35,154.56 L757.65,156.22 L763.96,155.80 L770.26,153.47 L776.56,153.16 L782.86,147.77 L789.17,141.57 L795.47,140.83 L801.77,139.32 L808.07,138.26 L814.37,139.61 L820.68,143.29 L826.98,148.44 L833.28,153.03 L839.58,161.29 L845.89,169.18 L852.19,174.44 L858.49,178.54 L864.79,184.64 L871.10,189.69 L877.40,193.22 L883.70,197.67 L890.00,202.96 L896.31,201.97 L902.61,203.82 L908.91,205.34 L915.21,206.78 L921.52,205.08 L927.82,204.48 L934.12,205.88 L940.42,206.58 L946.73,206.48 L953.03,212.59 L959.33,215.68 L965.63,217.28 L971.93,219.31 L978.24,224.68 L984.54,227.14 L990.84,226.80 L997.14,225.84 L1003.45,227.73 L1009.75,225.24 L1016.05,224.63 L1022.35,225.36 L1028.66,225.58 L1034.96,224.60 L1041.26,228.28 L1047.56,231.59 L1053.87,232.71 L1060.17,230.59 L1066.47,229.83 L1072.77,229.40 L1079.08,229.46 L1085.38,231.79 L1091.68,233.69 L1097.98,232.28 L1104.29,231.24 L1110.59,232.33 L1116.89,235.47 L1123.19,238.42 L1129.49,240.86 L1135.80,242.56 L1142.10,241.77 L1148.40,240.33 L1154.70,238.83 L1161.01,236.68 L1167.31,233.56 L1173.61,229.74 L1179.91,227.12 L1186.22,224.18 L1192.52,220.02 L1198.82,216.27 L1205.12,211.96 L1211.43,208.49 L1217.73,205.72 L1224.03,205.78 L1230.33,204.62 L1236.64,202.54 L1242.94,201.01 L1249.24,202.46 L1255.54,205.33 L1261.85,209.41 L1268.15,213.30 L1274.45,217.96 L1280.75,221.12 L1287.05,225.57 L1293.36,229.78 L1299.66,233.58 L1305.96,235.48 L1312.26,236.52 L1318.57,237.36 L1324.87,236.73 L1331.17,237.20 L1337.47,235.68 L1343.78,233.53 L1350.08,232.76 L1356.38,230.56 L1362.68,229.28 L1368.99,227.14 L1375.29,224.89 L1381.59,223.42 L1387.89,219.29 L1394.20,216.88 L1400.50,215.82 L1406.80,213.73 L1413.10,214.27 L1419.41,214.14 L1425.71,214.48 L1432.01,215.47 L1438.31,217.27 L1444.61,220.49 L1450.92,222.40 L1457.22,223.06 L1463.52,223.67 L1469.82,222.17 L1476.13,221.14 L1482.43,221.13 L1488.73,221.31 L1495.03,222.26 L1501.34,221.96 L1507.64,222.39 L1513.94,223.96 L1520.24,226.17 L1526.55,230.49 L1532.85,234.32 L1539.15,236.49 L1545.45,238.96 L1551.76,238.64 L1558.06,238.96 L1564.36,241.11 L1570.66,241.96 L1576.97,243.28 L1583.27,242.36 L1589.57,242.76 L1595.87,242.96 L1602.17,242.94 L1608.48,244.91 L1614.78,246.08 L1621.08,246.07 L1627.38,246.53 L1633.69,245.07 L1639.99,243.54 L1646.29,240.52 L1652.59,239.64 L1658.90,238.44 L1665.20,237.48 L1671.50,237.61 L1677.80,237.12 L1684.11,237.26 L1690.41,239.28 L1696.71,241.79 L1703.01,244.49 L1709.32,245.99 L1715.62,248.80 L1721.92,251.37 L1728.22,253.09 L1734.53,255.50 L1740.83,258.71 L1747.13,260.24 L1753.43,261.54 L1759.73,263.49 L1766.04,265.81 L1772.34,265.17 L1778.64,262.04 L1784.94,258.81 L1791.25,257.99 L1797.55,255.48 L1803.85,253.44 L1810.15,251.91 L1816.46,250.83 L1822.76,249.08 L1829.06,248.98" stroke="#33cc33" stroke-width="1.3" stroke-opacity="0.7"/>
<path d="M7.67,272.74 L13.97,280.09 L20.27,285.62 L26.57,289.83 L32.88,290.40 L39.18,294.68 L45.48,300.53 L51.78,313.15 L58.09,332.48 L64.39,347.13 L70.69,355.03 L76.99,360.80 L83.30,363.58 L89.60,366.23 L95.90,371.60 L102.20,370.33 L108.51,363.28 L114.81,352.95 L121.11,342.90 L127.41,333.53 L133.72,329.15 L140.02,325.33 L146.32,323.83 L152.62,323.15 L158.93,320.88 L165.23,320.33 L171.53,318.90 L177.83,319.18 L184.13,318.50 L190.44,317.95 L196.74,316.90 L203.04,315.38 L209.34,316.33 L215.65,318.93 L221.95,319.63 L228.25,321.15 L234.55,322.65 L240.86,320.90 L247.16,321.60 L253.46,321.78 L259.76,322.75 L266.07,324.50 L272.37,324.50 L278.67,323.08 L284.97,316.85 L291.28,311.05 L297.58,307.08 L303.88,302.83 L310.18,301.18 L316.49,299.95 L322.79,296.30 L329.09,294.20 L335.39,291.60 L341.69,288.58 L348.00,285.55 L354.30,281.15 L360.60,276.83 L366.90,271.73 L373.21,265.95 L379.51,261.95 L385.81,260.63 L392.11,260.63 L398.42,263.88 L404.72,267.88 L411.02,266.93 L417.32,266.53 L423.63,264.93 L429.93,261.48 L436.23,259.83 L442.53,258.75 L448.84,257.13 L455.14,254.08 L461.44,250.65 L467.74,245.55 L474.05,240.45 L480.35,236.93 L486.65,234.85 L492.95,235.28 L499.25,236.68 L505.56,237.65 L511.86,241.53 L518.16,243.18 L524.46,249.40 L530.77,252.55 L537.07,251.73 L543.37,251.30 L549.67,245.20 L555.98,242.05 L562.28,237.93 L568.58,231.88 L574.88,225.43 L581.19,219.23 L587.49,214.70 L593.79,213.33 L600.09,214.18 L606.40,219.05 L612.70,228.65 L619.00,238.00 L625.30,243.80 L631.61,247.00 L637.91,243.35 L644.21,237.83 L650.51,233.40 L656.81,225.15 L663.12,218.13 L669.42,210.80 L675.72,202.25 L682.02,196.73 L688.33,193.03 L694.63,189.95 L700.93,175.38 L707.23,165.08 L713.54,156.45 L719.84,142.50 L726.14,152.68 L732.44,159.70 L738.75,158.30 L745.05,165.68 L751.35,162.40 L757.65,155.20 L763.96,152.75 L770.26,145.90 L776.56,139.35 L782.86,133.65 L789.17,127.68 L795.47,129.88 L801.77,134.55 L808.07,141.00 L814.37,150.80 L820.68,158.28 L826.98,166.43 L833.28,172.60 L839.58,182.43 L845.89,185.93 L852.19,188.38 L858.49,191.95 L864.79,193.55 L871.10,196.95 L877.40,200.53 L883.70,209.45 L890.00,213.80 L896.31,210.05 L902.61,209.78 L908.91,205.65 L915.21,200.55 L921.52,200.55 L927.82,198.43 L934.12,201.73 L940.42,209.00 L946.73,216.95 L953.03,228.30 L959.33,231.83 L965.63,229.73 L971.93,229.43 L978.24,227.75 L984.54,224.23 L990.84,223.15 L997.14,223.70 L1003.45,223.83 L1009.75,224.03 L1016.05,226.95 L1022.35,228.63 L1028.66,224.58 L1034.96,226.30 L1041.26,232.43 L1047.56,237.18 L1053.87,239.75 L1060.17,237.30 L1066.47,227.53 L1072.77,222.03 L1079.08,221.30 L1085.38,227.28 L1091.68,234.98 L1097.98,238.90 L1104.29,241.20 L1110.59,240.98 L1116.89,241.30 L1123.19,241.35 L1129.49,243.65 L1135.80,244.30 L1142.10,241.45 L1148.40,239.28 L1154.70,234.35 L1161.01,227.98 L1167.31,222.50 L1173.61,217.48 L1179.91,215.00 L1186.22,215.53 L1192.52,213.85 L1198.82,211.13 L1205.12,205.15 L1211.43,199.05 L1217.73,195.80 L1224.03,198.90 L1230.33,200.98 L1236.64,201.63 L1242.94,204.93 L1249.24,206.38 L1255.54,212.73 L1261.85,220.60 L1268.15,226.70 L1274.45,230.68 L1280.75,234.43 L1287.05,237.33 L1293.36,238.70 L1299.66,240.08 L1305.96,238.68 L1312.26,237.38 L1318.57,237.65 L1324.87,233.80 L1331.17,234.55 L1337.47,232.53 L1343.78,228.73 L1350.08,229.75 L1356.38,225.13 L1362.68,224.28 L1368.99,223.00 L1375.29,219.95 L1381.59,217.75 L1387.89,212.08 L1394.20,209.43 L1400.50,208.33 L1406.80,207.95 L1413.10,213.83 L1419.41,218.13 L1425.71,219.98 L1432.01,223.85 L1438.31,224.50 L1444.61,226.35 L1450.92,227.25 L1457.22,225.40 L1463.52,222.35 L1469.82,217.60 L1476.13,215.30 L1482.43,215.65 L1488.73,218.55 L1495.03,224.70 L1501.34,228.18 L1507.64,230.08 L1513.94,231.35 L1520.24,231.15 L1526.55,236.80 L1532.85,242.15 L1539.15,243.85 L1545.45,247.33 L1551.76,243.05 L1558.06,238.60 L1564.36,240.48 L1570.66,238.10 L1576.97,241.58 L1583.27,244.45 L1589.57,245.85 L1595.87,246.10 L1602.17,246.58 L1608.48,248.80 L1614.78,246.08 L1621.08,247.48 L1627.38,246.18 L1633.69,241.93 L1639.99,238.75 L1646.29,233.38 L1652.59,230.60 L1658.90,231.68 L1665.20,235.15 L1671.50,239.53 L1677.80,241.80 L1684.11,243.50 L1690.41,245.98 L1696.71,248.15 L1703.01,249.95 L1709.32,250.25 L1715.62,253.10 L1721.92,256.70 L1728.22,258.88 L1734.53,263.20 L1740.83,265.80 L1747.13,265.95 L1753.43,267.18 L1759.73,267.93 L1766.04,266.23 L1772.34,264.18 L1778.64,257.83 L1784.94,248.35 L1791.25,245.60 L1797.55,244.00 L1803.85,246.60 L1810.15,251.65 L1816.46,251.83 L1822.76,251.83 L1829.06,254.13" stroke="#ff33ff" stroke-width="1.3" stroke-opacity="0.8"/>
</g>
<g clip-path="url(#pc)">
<path d="M13.5,284.0V285.0M13.5,291.3V292.0M20.5,289.0V291.8M20.5,294.0V296.4M26.5,289.5V290.0M32.5,283.2V286.3M32.5,289.2V291.8M39.5,308.4V309.0M45.5,297.8V310.6M45.5,317.4V317.8M51.5,328.6V337.6M51.5,340.5V350.8M58.5,335.0V335.4M58.5,363.6V370.5M64.5,356.0V363.3M64.5,367.0V367.5M70.5,347.4V349.0M70.5,367.4V370.5M76.5,348.2V354.2M76.5,363.6V364.0M83.5,358.0V358.5M83.5,374.7V375.6M89.5,373.0V375.3M89.5,377.6V520.8M95.5,368.0V370.5M95.5,378.2V395.0M102.5,353.4V358.5M102.5,372.2V374.7M108.5,345.0V346.5M108.5,358.5V359.0M114.5,333.7V336.3M121.5,337.1V337.5M127.5,320.5V321.0M127.5,332.0V333.3M133.5,318.8V322.0M133.5,329.0V333.3M140.5,318.8V321.0M140.5,329.8V333.3M146.5,315.5V321.9M146.5,324.3V326.5M158.5,317.2V318.8M158.5,319.9V323.2M165.5,317.2V318.8M165.5,319.5V321.5M171.5,313.9V317.2M171.5,318.6V319.9M177.5,315.0V317.7M177.5,319.4V322.7M184.5,311.0V317.2M184.5,319.4V320.5M190.5,312.0V315.3M196.5,311.7V314.4M196.5,315.3V316.6M203.5,310.0V313.3M209.5,310.5V313.3M215.5,320.5V321.0M215.5,327.0V329.3M221.5,315.7V317.2M221.5,327.0V327.5M228.5,317.2V317.7M228.5,319.4V321.5M234.5,318.3V320.0M234.5,327.0V327.6M240.5,316.0V320.0M240.5,327.6V328.0M247.5,316.6V317.7M247.5,320.0V321.0M253.5,315.5V318.3M253.5,320.1V321.0M259.5,320.0V321.0M259.5,330.9V332.0M266.5,322.7V327.0M266.5,332.0V335.3M272.5,312.2V320.0M272.5,327.0V327.5M278.5,314.0V314.4M278.5,321.0V321.5M284.5,304.0V306.0M291.5,302.5V303.8M291.5,307.1V309.0M297.5,300.3V303.0M297.5,304.1V307.1M303.5,297.0V297.4M303.5,303.3V305.0M310.5,299.4V303.6M316.5,297.2V298.9M316.5,300.0V300.5M322.5,289.0V289.5M322.5,299.4V301.0M329.5,285.1V287.9M329.5,289.0V290.0M335.5,285.1V288.0M335.5,289.0V290.0M341.5,288.4V288.8M347.5,276.3V277.4M354.5,270.5V271.4M360.5,264.2V270.3M366.5,260.4V266.4M373.5,253.2V254.3M373.5,265.9V270.8M379.5,249.4V253.8M379.5,255.4V261.5M385.5,253.2V255.4M385.5,266.4V273.6M392.5,265.3V266.4M392.5,267.3V275.8M398.5,264.8V266.4M398.5,267.3V271.9M404.5,265.9V267.0M404.5,271.4V274.7M411.5,260.3V262.6M411.5,271.9V272.5M417.5,259.6V262.6M417.5,264.8V267.5M423.5,256.5V260.9M423.5,264.4V267.5M429.5,252.4V257.6M436.5,253.3V255.0M436.5,256.0V261.6M442.5,252.2V256.6M442.5,260.5V266.0M448.5,250.6V254.4M455.5,245.0V245.4M461.5,241.2V242.3M461.5,246.2V247.8M467.5,237.4V240.1M467.5,244.0V245.0M474.5,233.5V234.0M480.5,228.6V231.3M480.5,235.2V239.0M486.5,227.5V231.9M486.5,234.0V242.3M492.5,230.8V233.0M492.5,241.8V242.9M499.5,240.7V255.5M505.5,234.0V235.2M505.5,239.6V243.0M518.5,245.8V248.4M518.5,251.1V255.5M537.5,243.4V246.2M537.5,247.3V250.6M543.5,245.0V245.8M543.5,246.7V250.0M549.5,236.8V240.1M549.5,245.6V246.7M555.5,233.5V235.2M555.5,239.6V245.0M562.5,227.5V229.7M562.5,235.2V235.7M568.5,220.0V222.5M568.5,230.2V232.4M574.5,212.6V214.3M574.5,220.9V221.4M581.5,208.8V210.4M581.5,214.8V217.6M587.5,206.0V210.3M587.5,211.6V217.0M593.5,207.9V211.0M593.5,217.0V223.2M600.5,206.7V215.8M600.5,217.7V219.5M606.5,215.2V217.7M606.5,229.9V231.1M612.5,222.0V231.1M612.5,250.0V250.7M619.5,238.5V246.4M619.5,254.4V262.9M625.5,236.6V240.9M631.5,237.9V239.7M631.5,242.7V244.6M637.5,235.0V235.4M637.5,244.6V253.7M644.5,225.6V232.3M644.5,236.6V237.2M650.5,218.9V223.2M650.5,231.1V232.3M656.5,209.3V209.7M663.5,200.0V207.3M663.5,209.1V212.2M669.5,198.1V203.0M669.5,208.5V214.6M675.5,187.1V189.0M675.5,201.8V203.0M682.5,183.2V187.6M682.5,190.2V198.7M688.5,180.4V185.5M688.5,192.5V196.3M694.5,168.6V189.7M694.5,190.7V194.6M700.5,129.3V130.7M707.5,93.4V116.2M707.5,146.4V159.5M713.5,146.0V146.8M713.5,158.0V185.5M719.5,127.9V134.9M719.5,157.4V158.0M726.5,171.4V173.5M732.5,155.3V172.4M732.5,174.5V184.8M738.5,150.8V152.4M738.5,173.5V186.2M745.5,145.4V153.1M745.5,164.4V167.2M751.5,149.6V158.3M751.5,166.2V180.5M757.5,141.2V145.7M757.5,159.2V168.6M763.5,143.7V173.5M770.5,130.7V137.0M770.5,142.6V156.0M776.5,143.3V148.2M782.5,118.7V122.9M782.5,132.8V141.2M789.5,111.7V118.0M789.5,118.7V127.2M795.5,111.2V119.0M795.5,145.8V148.8M801.5,139.2V144.0M801.5,150.8V165.4M808.5,135.2V148.7M808.5,151.9V157.5M814.5,140.8V147.6M814.5,157.9V181.3M820.5,175.7V192.4M826.5,158.3V176.2M833.5,165.4V173.4M833.5,182.1V186.9M839.5,197.2V201.2M845.5,182.5V189.7M845.5,199.6V201.0M852.5,193.2V204.4M858.5,180.0V187.7M858.5,196.4V202.0M864.5,175.0V186.9M864.5,203.6V204.4M871.5,194.0V203.3M871.5,203.9V216.3M877.5,194.0V204.4M877.5,207.5V209.0M883.5,203.5V207.5M883.5,223.4V224.0M890.5,213.1V221.0M890.5,221.9V228.2M896.5,187.5V188.3M896.5,217.1V217.9M902.5,185.4V186.0M902.5,206.4V206.8M908.5,199.3V206.0M908.5,206.9V214.6M915.5,195.0V200.6M915.5,207.3V212.8M921.5,187.1V188.3M921.5,199.3V206.7M927.5,185.3V192.0M927.5,197.9V207.3M934.5,195.0V196.9M934.5,220.1V226.2M940.5,214.0V218.9M940.5,229.7V231.1M946.5,211.0V220.1M946.5,230.1V235.4M953.5,212.8V219.9M953.5,243.3V244.0M959.5,225.6V234.2M959.5,240.9V244.0M965.5,218.9V221.3M965.5,234.2V235.4M971.5,217.0V218.9M971.5,219.9V227.5M978.5,216.2V217.7M978.5,236.6V237.8M984.5,219.5V220.1M984.5,236.0V236.6M990.5,214.6V217.0M990.5,220.1V223.8M997.5,213.4V215.2M1003.5,219.0V219.9M1003.5,237.1V237.6M1009.5,218.5V220.9M1009.5,237.5V239.0M1016.5,218.0V219.9M1016.5,228.7V231.2M1022.5,225.8V227.8M1022.5,228.7V235.1M1028.5,220.0V220.9M1028.5,228.7V232.2M1034.5,218.0V219.5M1034.5,227.8V232.2M1041.5,226.3V228.7M1041.5,253.2V255.6M1047.5,240.5V246.8M1047.5,253.7V259.1M1053.5,230.8V231.2M1053.5,246.8V247.2M1060.5,215.0V218.0M1060.5,219.9V220.9M1066.5,211.1V214.1M1066.5,219.5V221.4M1072.5,212.6V214.1M1072.5,224.8V227.3M1079.5,221.9V225.1M1079.5,228.3V234.1M1085.5,241.9V260.0M1091.5,235.1V241.9M1091.5,244.9V245.4M1097.5,237.0V240.5M1097.5,245.4V245.9M1104.5,233.1V237.5M1104.5,240.5V243.0M1110.5,236.3V236.7M1110.5,241.0V251.7M1116.5,231.5V232.0M1116.5,246.2V246.8M1123.5,240.3V240.7M1123.5,244.6V251.9M1129.5,237.9V242.0M1129.5,246.7V250.9M1135.5,242.6V243.6M1135.5,245.7V251.9M1142.5,234.4V234.8M1142.5,244.1V244.6M1148.5,227.0V232.0M1148.5,234.8V236.8M1154.5,226.6V227.0M1154.5,233.2V234.8M1167.5,211.9V212.9M1167.5,218.1V221.2M1173.5,208.3V211.9M1173.5,212.6V219.7M1179.5,212.0V212.4M1179.5,217.1V222.3M1186.5,214.5V216.0M1186.5,220.2V225.4M1192.5,205.1V206.2M1198.5,199.9V201.0M1198.5,205.1V206.2M1205.5,192.8V193.2M1211.5,184.9V192.1M1211.5,195.8V197.9M1217.5,182.3V193.2M1217.5,193.9V198.4M1224.5,190.1V193.2M1224.5,213.4V215.0M1230.5,200.0V201.5M1230.5,206.7V213.4M1236.5,193.2V198.4M1236.5,200.0V205.1M1242.5,199.1V200.4M1242.5,206.4V214.5M1255.5,214.5V217.1M1255.5,226.9V232.1M1261.5,221.0V226.9M1261.5,229.9V239.3M1268.5,224.0V230.8M1268.5,231.6V235.1M1274.5,221.0V231.6M1274.5,235.1V235.5M1280.5,232.1V233.8M1280.5,241.9V246.6M1287.5,238.9V241.5M1287.5,242.2V250.0M1293.5,232.1V236.3M1293.5,240.6V243.2M1299.5,229.9V235.9M1299.5,240.6V241.0M1305.5,234.2V236.3M1305.5,240.6V245.8M1312.5,232.1V236.3M1312.5,237.4V244.0M1318.5,233.0V237.4M1318.5,238.5V242.8M1324.5,223.9V225.2M1331.5,221.8V222.7M1331.5,239.3V240.2M1337.5,226.9V228.2M1337.5,238.1V241.1M1343.5,221.8V222.2M1343.5,229.1V230.4M1350.5,220.1V222.3M1356.5,218.2V220.8M1362.5,218.2V220.1M1368.5,216.1V217.1M1368.5,225.2V227.1M1375.5,210.2V217.1M1381.5,211.6V212.0M1387.5,201.2V202.1M1394.5,201.4V205.0M1400.5,204.3V205.0M1400.5,212.7V215.3M1406.5,209.4V210.5M1406.5,212.0V217.5M1413.5,210.5V210.9M1419.5,220.4V223.7M1419.5,224.5V227.4M1425.5,225.2V227.4M1432.5,218.2V220.1M1432.5,226.0V229.6M1438.5,218.2V225.2M1444.5,226.7V228.5M1444.5,231.1V238.4M1450.5,222.3V223.7M1457.5,214.2V218.6M1463.5,213.5V216.0M1469.5,209.3V212.1M1476.5,210.1V212.1M1476.5,214.5V217.2M1482.5,210.1V214.1M1488.5,227.6V229.2M1495.5,223.2V226.8M1501.5,235.1V240.3M1507.5,220.0V227.6M1507.5,229.2V230.0M1513.5,232.7V241.9M1520.5,225.6V232.0M1526.5,233.9V235.9M1532.5,243.5V249.0M1532.5,249.8V255.8M1539.5,238.3V239.5M1539.5,247.0V248.6M1545.5,239.1V241.9M1545.5,249.8V251.8M1551.5,231.2V233.9M1551.5,249.0V253.0M1558.5,224.0V231.2M1558.5,233.5V240.3M1564.5,247.0V247.8M1570.5,237.5V240.3M1570.5,246.6V247.0M1576.5,242.3V246.6M1576.5,247.8V253.0M1583.5,237.5V242.7M1608.5,243.7V249.7M1621.5,246.9V247.7M1627.5,242.1V244.5M1627.5,246.1V247.7M1633.5,233.4V234.6M1639.5,225.0V229.0M1639.5,235.0V237.3M1646.5,217.9V225.4M1652.5,224.5V225.0M1658.5,231.8V233.8M1665.5,231.8V234.6M1671.5,235.8V242.9M1677.5,236.2V242.5M1684.5,241.3V244.9M1684.5,245.7V247.7M1690.5,252.8V255.6M1696.5,250.0V251.6M1696.5,252.4V255.6M1703.5,247.7V249.7M1703.5,251.3V253.2M1709.5,244.9V246.9M1715.5,238.5V246.5M1715.5,264.2V267.2M1721.5,260.5V266.0M1721.5,267.0V281.3M1728.5,257.5V258.4M1728.5,265.4V267.2M1734.5,257.5V259.3M1734.5,264.2V265.4M1740.5,274.6V278.2M1747.5,278.2V280.0M1753.5,260.5V263.3M1759.5,259.3V263.0M1759.5,267.2V268.5M1766.5,262.3V264.8M1766.5,267.8V269.7M1778.5,225.7V237.9M1784.5,225.7V229.3M1784.5,232.4V245.8M1791.5,223.8V225.1M1791.5,256.8V258.7M1797.5,250.1V252.0M1797.5,256.8V257.5M1803.5,247.0V248.3M1810.5,245.8V249.5M1810.5,250.7V255.6M1816.5,249.5V251.3M1816.5,257.5V258.2M1822.5,243.4V252.0M1829.5,250.1V252.6M1829.5,257.5V259.3" stroke="#5050ff" stroke-width="1" fill="none"/>
<path d="M11.0,285.0h5v6.3h-5zM18.0,291.8h5v2.2h-5zM37.0,287.8h5v20.6h-5zM43.0,310.6h5v6.8h-5zM49.0,337.6h5v2.9h-5zM56.0,335.4h5v28.2h-5zM62.0,363.3h5v3.7h-5zM74.0,354.2h5v9.4h-5zM81.0,358.5h5v16.2h-5zM87.0,375.3h5v2.3h-5zM131.0,322.0h5v7.0h-5zM144.0,321.9h5v2.4h-5zM156.0,318.8h5v1.1h-5zM169.0,317.2h5v1.4h-5zM175.0,317.7h5v1.7h-5zM188.0,315.3h5v1.3h-5zM207.0,313.3h5v7.7h-5zM213.0,321.0h5v6.0h-5zM226.0,317.7h5v1.7h-5zM232.0,320.0h5v7.0h-5zM245.0,317.7h5v2.3h-5zM251.0,318.3h5v1.8h-5zM257.0,321.0h5v9.9h-5zM295.0,303.0h5v1.1h-5zM308.0,298.9h5v1.0h-5zM327.0,287.9h5v1.1h-5zM333.0,288.0h5v1.0h-5zM358.0,270.3h5v1.4h-5zM377.0,253.8h5v1.6h-5zM383.0,255.4h5v11.0h-5zM396.0,266.4h5v1.0h-5zM402.0,267.0h5v4.4h-5zM415.0,262.6h5v2.2h-5zM434.0,255.0h5v1.0h-5zM440.0,256.6h5v3.9h-5zM484.0,231.9h5v2.1h-5zM490.0,233.0h5v8.8h-5zM509.0,235.2h5v14.3h-5zM522.0,250.6h5v13.9h-5zM541.0,245.8h5v1.0h-5zM585.0,210.3h5v1.3h-5zM591.0,211.0h5v6.0h-5zM598.0,215.8h5v1.9h-5zM604.0,217.7h5v12.2h-5zM610.0,231.1h5v18.9h-5zM617.0,246.4h5v8.0h-5zM629.0,239.7h5v3.0h-5zM686.0,185.5h5v7.0h-5zM692.0,189.7h5v1.0h-5zM705.0,116.2h5v30.2h-5zM711.0,146.8h5v11.2h-5zM724.0,138.1h5v33.3h-5zM730.0,172.4h5v2.1h-5zM743.0,153.1h5v11.3h-5zM787.0,118.0h5v1.0h-5zM793.0,119.0h5v26.8h-5zM799.0,144.0h5v6.8h-5zM812.0,147.6h5v10.3h-5zM818.0,157.5h5v18.2h-5zM824.0,176.2h5v7.2h-5zM837.0,173.4h5v23.8h-5zM850.0,190.0h5v3.2h-5zM862.0,186.9h5v16.7h-5zM875.0,204.4h5v3.1h-5zM881.0,207.5h5v15.9h-5zM900.0,186.0h5v20.4h-5zM906.0,206.0h5v1.0h-5zM925.0,192.0h5v5.9h-5zM932.0,196.9h5v23.2h-5zM938.0,218.9h5v10.8h-5zM951.0,219.9h5v23.4h-5zM976.0,217.7h5v18.9h-5zM995.0,215.2h5v5.9h-5zM1001.0,219.9h5v17.2h-5zM1014.0,219.9h5v8.8h-5zM1032.0,219.5h5v8.3h-5zM1039.0,228.7h5v24.5h-5zM1070.0,214.1h5v10.7h-5zM1077.0,225.1h5v3.2h-5zM1083.0,227.8h5v14.1h-5zM1089.0,241.9h5v3.0h-5zM1108.0,236.7h5v4.3h-5zM1114.0,232.0h5v14.2h-5zM1127.0,242.0h5v4.7h-5zM1177.0,212.4h5v4.7h-5zM1184.0,216.0h5v4.2h-5zM1209.0,192.1h5v3.7h-5zM1222.0,193.2h5v20.2h-5zM1240.0,200.4h5v6.0h-5zM1247.0,207.3h5v11.9h-5zM1253.0,217.1h5v9.8h-5zM1259.0,226.9h5v3.0h-5zM1272.0,231.6h5v3.5h-5zM1278.0,233.8h5v8.1h-5zM1297.0,235.9h5v4.7h-5zM1329.0,222.7h5v16.6h-5zM1348.0,222.3h5v7.0h-5zM1360.0,220.1h5v4.7h-5zM1392.0,205.0h5v1.5h-5zM1398.0,205.0h5v7.7h-5zM1411.0,210.9h5v14.7h-5zM1430.0,220.1h5v5.9h-5zM1436.0,225.2h5v3.0h-5zM1442.0,228.5h5v2.6h-5zM1474.0,212.1h5v2.4h-5zM1480.0,214.1h5v5.9h-5zM1486.0,218.8h5v8.8h-5zM1493.0,226.8h5v9.9h-5zM1511.0,228.8h5v3.9h-5zM1518.0,232.0h5v3.9h-5zM1524.0,235.9h5v15.1h-5zM1543.0,241.9h5v7.9h-5zM1562.0,232.0h5v15.0h-5zM1574.0,246.6h5v1.2h-5zM1587.0,244.3h5v8.3h-5zM1600.0,241.3h5v8.4h-5zM1606.0,249.7h5v1.9h-5zM1619.0,242.1h5v4.8h-5zM1650.0,225.0h5v8.4h-5zM1656.0,233.8h5v5.1h-5zM1663.0,234.6h5v8.3h-5zM1682.0,244.9h5v1.0h-5zM1688.0,244.5h5v8.3h-5zM1713.0,246.5h5v17.7h-5zM1732.0,259.3h5v4.9h-5zM1738.0,261.1h5v13.5h-5zM1757.0,263.0h5v4.2h-5zM1764.0,264.8h5v3.0h-5zM1789.0,225.1h5v31.7h-5zM1814.0,251.3h5v6.2h-5zM1827.0,252.6h5v4.9h-5z" fill="#3333ff"/>
<path d="M24.5,290.5h4v3.3h-4zM30.5,286.8h4v1.9h-4zM68.5,349.5h4v17.4h-4zM93.5,371.0h4v6.7h-4zM100.5,359.0h4v12.7h-4zM106.5,347.0h4v11.0h-4zM112.5,336.8h4v8.4h-4zM119.5,330.8h4v5.8h-4zM125.5,321.5h4v10.0h-4zM138.5,321.5h4v7.8h-4zM150.5,318.8h4v5.6h-4zM163.5,319.3h4v0.5h-4zM182.5,317.7h4v1.2h-4zM194.5,314.9h4v0.5h-4zM201.5,313.8h4v0.7h-4zM219.5,317.7h4v8.8h-4zM238.5,320.5h4v6.6h-4zM264.5,327.5h4v4.0h-4zM270.5,320.5h4v6.0h-4zM276.5,314.9h4v5.6h-4zM282.5,306.5h4v7.3h-4zM289.5,304.3h4v2.3h-4zM301.5,297.9h4v4.9h-4zM314.5,299.4h4v0.5h-4zM320.5,290.0h4v8.9h-4zM339.5,287.3h4v0.6h-4zM345.5,277.9h4v11.6h-4zM352.5,271.9h4v5.0h-4zM364.5,266.9h4v5.1h-4zM371.5,254.8h4v10.6h-4zM390.5,266.9h4v0.5h-4zM409.5,263.1h4v8.3h-4zM421.5,261.4h4v2.5h-4zM427.5,258.1h4v2.3h-4zM446.5,254.9h4v5.4h-4zM453.5,245.9h4v6.9h-4zM459.5,242.8h4v2.9h-4zM465.5,240.6h4v2.9h-4zM472.5,234.5h4v6.2h-4zM478.5,231.8h4v2.9h-4zM497.5,240.1h4v0.5h-4zM503.5,235.7h4v3.4h-4zM516.5,248.9h4v1.7h-4zM528.5,248.3h4v16.6h-4zM535.5,246.7h4v0.5h-4zM547.5,240.6h4v4.5h-4zM553.5,235.7h4v3.4h-4zM560.5,230.2h4v4.5h-4zM566.5,223.0h4v6.7h-4zM572.5,214.8h4v5.6h-4zM579.5,210.9h4v3.4h-4zM623.5,241.4h4v11.0h-4zM635.5,235.9h4v8.2h-4zM642.5,232.8h4v3.3h-4zM648.5,223.7h4v6.9h-4zM654.5,210.2h4v12.5h-4zM661.5,207.8h4v0.8h-4zM667.5,203.5h4v4.5h-4zM673.5,189.5h4v11.8h-4zM680.5,188.1h4v1.6h-4zM698.5,131.2h4v50.2h-4zM717.5,135.4h4v21.5h-4zM736.5,152.9h4v20.1h-4zM749.5,158.8h4v6.9h-4zM755.5,146.2h4v12.5h-4zM761.5,143.1h4v0.5h-4zM768.5,137.5h4v4.6h-4zM774.5,132.6h4v10.2h-4zM780.5,123.4h4v8.9h-4zM806.5,149.2h4v2.2h-4zM831.5,173.9h4v7.7h-4zM843.5,190.2h4v8.9h-4zM856.5,188.2h4v7.7h-4zM869.5,203.8h4v0.5h-4zM888.5,221.5h4v0.5h-4zM894.5,188.8h4v27.8h-4zM913.5,201.1h4v5.7h-4zM919.5,188.8h4v10.0h-4zM944.5,220.6h4v9.0h-4zM957.5,234.7h4v5.7h-4zM963.5,221.8h4v11.9h-4zM969.5,219.4h4v0.5h-4zM982.5,220.6h4v14.9h-4zM988.5,217.5h4v2.1h-4zM1007.5,221.4h4v15.6h-4zM1020.5,228.3h4v0.5h-4zM1026.5,221.4h4v6.8h-4zM1045.5,247.3h4v5.9h-4zM1051.5,231.7h4v14.6h-4zM1058.5,218.5h4v0.9h-4zM1064.5,214.6h4v4.4h-4zM1095.5,241.0h4v3.9h-4zM1102.5,238.0h4v2.0h-4zM1121.5,241.2h4v2.9h-4zM1133.5,244.1h4v1.1h-4zM1140.5,235.3h4v8.3h-4zM1146.5,232.5h4v1.8h-4zM1152.5,227.5h4v5.2h-4zM1159.5,218.6h4v8.4h-4zM1165.5,213.4h4v4.2h-4zM1171.5,212.4h4v0.5h-4zM1190.5,206.7h4v13.0h-4zM1196.5,201.5h4v3.1h-4zM1203.5,193.7h4v7.3h-4zM1215.5,193.7h4v0.5h-4zM1228.5,202.0h4v4.2h-4zM1234.5,198.9h4v0.6h-4zM1266.5,231.3h4v0.5h-4zM1285.5,242.0h4v0.5h-4zM1291.5,236.8h4v3.3h-4zM1303.5,236.8h4v3.3h-4zM1310.5,236.8h4v0.5h-4zM1316.5,237.9h4v0.5h-4zM1322.5,225.7h4v10.1h-4zM1335.5,228.7h4v8.9h-4zM1341.5,222.7h4v5.9h-4zM1354.5,221.3h4v7.1h-4zM1366.5,217.6h4v7.1h-4zM1373.5,217.6h4v0.5h-4zM1379.5,212.5h4v4.9h-4zM1385.5,202.6h4v8.9h-4zM1404.5,211.0h4v0.5h-4zM1417.5,224.2h4v0.5h-4zM1423.5,220.6h4v4.1h-4zM1448.5,224.2h4v7.5h-4zM1455.5,219.1h4v4.1h-4zM1461.5,216.5h4v2.0h-4zM1467.5,212.6h4v3.0h-4zM1499.5,228.9h4v5.7h-4zM1505.5,228.1h4v0.6h-4zM1530.5,249.5h4v0.5h-4zM1537.5,240.0h4v6.5h-4zM1549.5,234.4h4v14.1h-4zM1556.5,231.7h4v1.3h-4zM1568.5,240.8h4v5.3h-4zM1581.5,243.2h4v0.5h-4zM1593.5,241.8h4v10.1h-4zM1612.5,242.2h4v8.9h-4zM1625.5,245.0h4v0.6h-4zM1631.5,235.1h4v8.1h-4zM1637.5,229.5h4v5.0h-4zM1644.5,225.9h4v2.6h-4zM1669.5,243.4h4v0.5h-4zM1675.5,243.0h4v0.5h-4zM1694.5,252.1h4v0.5h-4zM1701.5,250.2h4v0.6h-4zM1707.5,247.4h4v0.6h-4zM1719.5,266.5h4v0.5h-4zM1726.5,258.9h4v6.0h-4zM1745.5,267.1h4v10.6h-4zM1751.5,263.8h4v2.3h-4zM1770.5,258.9h4v7.8h-4zM1776.5,238.4h4v18.6h-4zM1782.5,229.8h4v2.1h-4zM1795.5,252.5h4v3.8h-4zM1801.5,248.8h4v6.3h-4zM1808.5,250.0h4v0.5h-4zM1820.5,252.5h4v3.2h-4z" stroke="#4040ff" stroke-width="1" fill="none"/>
</g>
<g clip-path="url(#rc)" fill="none" stroke-linejoin="round">
<path d="M20.27,625.29 L26.57,626.78 L32.88,627.96 L39.18,630.40 L45.48,632.19 L51.78,635.65 L58.09,639.59 L64.39,643.67 L70.69,646.70 L76.99,650.33 L83.30,652.74 L89.60,655.06 L95.90,655.86 L102.20,655.42 L108.51,654.18 L114.81,652.99 L121.11,651.99 L127.41,649.37 L133.72,646.89 L140.02,643.55 L146.32,640.09 L152.62,636.32 L158.93,634.00 L165.23,631.29 L171.53,628.35 L177.83,625.44 L184.13,622.87 L190.44,621.03 L196.74,619.66 L203.04,618.68 L209.34,618.92 L215.65,620.13 L221.95,619.98 L228.25,620.39 L234.55,621.30 L240.86,621.84 L247.16,622.28 L253.46,622.78 L259.76,624.28 L266.07,625.29 L272.37,625.80 L278.67,625.91 L284.97,625.65 L291.28,625.35 L297.58,624.13 L303.88,621.93 L310.18,620.93 L316.49,619.67 L322.79,617.19 L329.09,615.32 L335.39,613.45 L341.69,611.45 L348.00,608.02 L354.30,604.83 L360.60,602.34 L366.90,600.13 L373.21,598.20 L379.51,596.58 L385.81,596.52 L392.11,596.86 L398.42,597.05 L404.72,597.82 L411.02,598.48 L417.32,599.46 L423.63,600.15 L429.93,600.76 L436.23,601.68 L442.53,603.50 L448.84,604.80 L455.14,605.75 L461.44,606.82 L467.74,607.60 L474.05,606.53 L480.35,605.36 L486.65,604.53 L492.95,604.29 L499.25,604.54 L505.56,604.18 L511.86,605.67 L518.16,607.28 L524.46,610.12 L530.77,610.99 L537.07,612.21 L543.37,613.99 L549.67,615.47 L555.98,616.75 L562.28,617.97 L568.58,618.94 L574.88,619.11 L581.19,617.99 L587.49,617.18 L593.79,617.33 L600.09,615.99 L606.40,615.96 L612.70,616.00 L619.00,617.50 L625.30,618.08 L631.61,618.72 L637.91,619.32 L644.21,620.01 L650.51,620.47 L656.81,620.67 L663.12,621.12 L669.42,621.54 L675.72,621.34 L682.02,620.47 L688.33,620.01 L694.63,618.27 L700.93,614.15 L707.23,610.79 L713.54,609.07 L719.84,606.77 L726.14,606.41 L732.44,606.36 L738.75,606.27 L745.05,607.21 L751.35,608.08 L757.65,608.79 L763.96,609.89 L770.26,610.87 L776.56,611.23 L782.86,611.42 L789.17,612.69 L795.47,614.40 L801.77,615.70 L808.07,617.40 L814.37,618.05 L820.68,619.27 L826.98,621.29 L833.28,622.36 L839.58,624.32 L845.89,626.23 L852.19,628.33 L858.49,630.28 L864.79,632.88 L871.10,635.70 L877.40,638.77 L883.70,640.90 L890.00,642.66 L896.31,642.74 L902.61,643.06 L908.91,642.75 L915.21,641.89 L921.52,641.02 L927.82,639.86 L934.12,639.85 L940.42,640.00 L946.73,639.98 L953.03,640.08 L959.33,639.76 L965.63,638.74 L971.93,637.17 L978.24,636.36 L984.54,636.61 L990.84,636.08 L997.14,635.70 L1003.45,636.21 L1009.75,636.54 L1016.05,636.74 L1022.35,636.12 L1028.66,634.89 L1034.96,634.47 L1041.26,634.30 L1047.56,634.22 L1053.87,633.98 L1060.17,633.31 L1066.47,631.91 L1072.77,631.71 L1079.08,631.78 L1085.38,632.25 L1091.68,632.25 L1097.98,632.70 L1104.29,632.69 L1110.59,632.90 L1116.89,633.70 L1123.19,633.78 L1129.49,633.29 L1135.80,632.91 L1142.10,632.63 L1148.40,632.69 L1154.70,632.58 L1161.01,631.48 L1167.31,629.97 L1173.61,627.85 L1179.91,626.16 L1186.22,625.03 L1192.52,623.28 L1198.82,621.11 L1205.12,618.37 L1211.43,616.32 L1217.73,613.82 L1224.03,613.31 L1230.33,612.77 L1236.64,612.26 L1242.94,612.64 L1249.24,614.26 L1255.54,616.50 L1261.85,618.93 L1268.15,620.86 L1274.45,622.71 L1280.75,625.67 L1287.05,628.83 L1293.36,631.74 L1299.66,634.62 L1305.96,637.16 L1312.26,637.95 L1318.57,639.49 L1324.87,639.95 L1331.17,640.91 L1337.47,640.28 L1343.78,638.91 L1350.08,637.92 L1356.38,636.35 L1362.68,634.86 L1368.99,632.60 L1375.29,630.37 L1381.59,628.39 L1387.89,625.65 L1394.20,623.80 L1400.50,622.51 L1406.80,620.99 L1413.10,621.83 L1419.41,621.46 L1425.71,621.63 L1432.01,622.61 L1438.31,623.23 L1444.61,624.58 L1450.92,624.92 L1457.22,625.30 L1463.52,625.49 L1469.82,625.68 L1476.13,626.65 L1482.43,627.76 L1488.73,628.95 L1495.03,630.87 L1501.34,630.85 L1507.64,630.89 L1513.94,631.61 L1520.24,632.11 L1526.55,633.27 L1532.85,634.00 L1539.15,634.50 L1545.45,635.99 L1551.76,636.51 L1558.06,637.16 L1564.36,638.43 L1570.66,638.69 L1576.97,638.69 L1583.27,637.75 L1589.57,638.14 L1595.87,637.87 L1602.17,637.65 L1608.48,637.31 L1614.78,635.52 L1621.08,634.26 L1627.38,633.78 L1633.69,632.11 L1639.99,631.32 L1646.29,630.52 L1652.59,629.45 L1658.90,629.22 L1665.20,628.87 L1671.50,628.86 L1677.80,628.31 L1684.11,628.75 L1690.41,629.28 L1696.71,629.57 L1703.01,630.27 L1709.32,630.33 L1715.62,631.75 L1721.92,633.89 L1728.22,635.46 L1734.53,637.59 L1740.83,639.61 L1747.13,640.45 L1753.43,640.72 L1759.73,641.25 L1766.04,641.85 L1772.34,641.29 L1778.64,639.00 L1784.94,636.50 L1791.25,635.98 L1797.55,635.55 L1803.85,633.73 L1810.15,631.89 L1816.46,631.38 L1822.76,630.16 L1829.06,628.75" stroke="#2e7d5a" stroke-width="2.2" stroke-opacity="0.8"/>
<path d="M7.67,637.08 L13.97,642.43 L20.27,644.24 L26.57,639.54 L32.88,635.44 L39.18,648.99 L45.48,652.76 L51.78,659.86 L58.09,664.52 L64.39,665.09 L70.69,651.32 L76.99,654.99 L83.30,657.42 L89.60,658.02 L95.90,653.03 L102.20,645.29 L108.51,638.49 L114.81,633.30 L121.11,630.42 L127.41,626.19 L133.72,629.84 L140.02,626.19 L146.32,627.78 L152.62,624.95 L158.93,625.80 L165.23,625.24 L171.53,625.13 L177.83,625.65 L184.13,624.30 L190.44,623.91 L196.74,622.45 L203.04,621.70 L209.34,628.06 L215.65,632.45 L221.95,625.17 L228.25,626.84 L234.55,632.30 L240.86,627.12 L247.16,627.12 L253.46,627.20 L259.76,635.28 L266.07,631.98 L272.37,626.51 L278.67,622.56 L284.97,617.28 L291.28,615.99 L297.58,616.28 L303.88,612.26 L310.18,614.33 L316.49,614.01 L322.79,608.47 L329.09,608.20 L335.39,608.20 L341.69,606.87 L348.00,601.88 L354.30,599.24 L360.60,599.66 L366.90,597.39 L373.21,593.18 L379.51,594.70 L385.81,608.29 L392.11,608.29 L398.42,609.36 L404.72,614.22 L411.02,608.82 L417.32,611.37 L423.63,609.04 L429.93,607.14 L436.23,606.23 L442.53,612.04 L448.84,608.20 L455.14,603.46 L461.44,602.01 L467.74,601.00 L474.05,598.36 L480.35,597.27 L486.65,601.12 L492.95,611.16 L499.25,609.80 L505.56,607.19 L511.86,622.41 L518.16,621.61 L524.46,634.19 L530.77,622.87 L537.07,621.94 L543.37,622.32 L549.67,618.30 L555.98,615.53 L562.28,612.61 L568.58,609.11 L574.88,605.60 L581.19,604.05 L587.49,605.29 L593.79,610.77 L600.09,611.48 L606.40,622.55 L612.70,635.57 L619.00,637.86 L625.30,628.98 L631.61,630.03 L637.91,625.61 L644.21,623.81 L650.51,618.86 L656.81,612.70 L663.12,611.70 L669.42,609.92 L675.72,604.80 L682.02,604.33 L688.33,608.51 L694.63,607.79 L700.93,593.19 L707.23,602.79 L713.54,609.08 L719.84,603.95 L726.14,619.50 L732.44,620.62 L738.75,614.98 L745.05,619.42 L751.35,617.84 L757.65,614.67 L763.96,613.90 L770.26,612.50 L776.56,611.26 L782.86,608.97 L789.17,607.95 L795.47,620.46 L801.77,622.47 L808.07,621.77 L814.37,625.64 L820.68,632.31 L826.98,634.92 L833.28,630.79 L839.58,638.45 L845.89,635.36 L852.19,636.47 L858.49,634.08 L864.79,639.24 L871.10,639.10 L877.40,640.47 L883.70,645.27 L890.00,643.98 L896.31,629.21 L902.61,635.17 L908.91,635.33 L915.21,632.69 L921.52,627.80 L927.82,631.38 L934.12,638.54 L940.42,641.24 L946.73,637.08 L953.03,643.40 L959.33,639.55 L965.63,634.43 L971.93,633.50 L978.24,638.85 L984.54,632.44 L990.84,631.29 L997.14,632.68 L1003.45,637.80 L1009.75,631.37 L1016.05,633.91 L1022.35,633.54 L1028.66,630.67 L1034.96,633.23 L1041.26,641.31 L1047.56,638.45 L1053.87,631.96 L1060.17,627.08 L1066.47,625.69 L1072.77,629.76 L1079.08,631.05 L1085.38,635.86 L1091.68,636.87 L1097.98,634.79 L1104.29,633.34 L1110.59,634.77 L1116.89,636.89 L1123.19,633.86 L1129.49,636.47 L1135.80,634.66 L1142.10,629.72 L1148.40,628.21 L1154.70,625.52 L1161.01,621.03 L1167.31,618.59 L1173.61,618.11 L1179.91,621.72 L1186.22,623.84 L1192.52,616.59 L1198.82,614.25 L1205.12,610.95 L1211.43,612.98 L1217.73,611.82 L1224.03,625.88 L1230.33,620.03 L1236.64,618.62 L1242.94,623.62 L1249.24,630.63 L1255.54,634.34 L1261.85,635.75 L1268.15,636.19 L1274.45,638.32 L1280.75,641.53 L1287.05,641.22 L1293.36,637.17 L1299.66,639.48 L1305.96,636.08 L1312.26,636.08 L1318.57,636.78 L1324.87,627.12 L1331.17,636.03 L1337.47,628.57 L1343.78,625.00 L1350.08,629.42 L1356.38,624.41 L1362.68,626.95 L1368.99,622.53 L1375.29,622.53 L1381.59,619.60 L1387.89,614.48 L1394.20,617.93 L1400.50,622.55 L1406.80,621.26 L1413.10,631.34 L1419.41,630.09 L1425.71,627.69 L1432.01,631.53 L1438.31,632.93 L1444.61,634.79 L1450.92,629.11 L1457.22,625.53 L1463.52,623.75 L1469.82,621.13 L1476.13,623.19 L1482.43,627.75 L1488.73,633.37 L1495.03,639.13 L1501.34,632.41 L1507.64,631.79 L1513.94,635.23 L1520.24,637.31 L1526.55,645.57 L1532.85,643.76 L1539.15,635.73 L1545.45,641.29 L1551.76,630.19 L1558.06,628.55 L1564.36,636.96 L1570.66,632.77 L1576.97,636.47 L1583.27,633.24 L1589.57,638.05 L1595.87,631.19 L1602.17,635.24 L1608.48,636.14 L1614.78,630.17 L1621.08,632.87 L1627.38,631.40 L1633.69,625.66 L1639.99,622.69 L1646.29,620.82 L1652.59,625.99 L1658.90,629.29 L1665.20,631.62 L1671.50,631.62 L1677.80,631.33 L1684.11,633.47 L1690.41,637.92 L1696.71,636.89 L1703.01,635.19 L1709.32,632.67 L1715.62,643.39 L1721.92,644.32 L1728.22,637.52 L1734.53,640.84 L1740.83,646.05 L1747.13,639.30 L1753.43,636.69 L1759.73,638.91 L1766.04,639.26 L1772.34,631.52 L1778.64,618.96 L1784.94,614.91 L1791.25,630.87 L1797.55,628.45 L1803.85,626.59 L1810.15,627.24 L1816.46,631.56 L1822.76,628.41 L1829.06,631.42" stroke="#ff44ff" stroke-width="1.3" stroke-opacity="0.75"/>
<path d="M7.67,642.07 L13.97,648.69 L20.27,650.87 L26.57,643.47 L32.88,637.14 L39.18,654.45 L45.48,658.66 L51.78,665.92 L58.09,670.20 L64.39,670.71 L70.69,652.00 L76.99,656.62 L83.30,659.60 L89.60,660.36 L95.90,653.27 L102.20,642.56 L108.51,633.50 L114.81,626.81 L121.11,623.14 L127.41,617.83 L133.72,623.94 L140.02,619.12 L146.32,621.83 L152.62,617.96 L158.93,619.48 L165.23,618.67 L171.53,618.50 L177.83,619.54 L184.13,617.36 L190.44,616.73 L196.74,614.32 L203.04,613.08 L209.34,626.56 L215.65,634.72 L221.95,621.85 L228.25,624.93 L234.55,634.43 L240.86,625.59 L247.16,625.59 L253.46,625.74 L259.76,639.53 L266.07,633.64 L272.37,624.45 L278.67,618.29 L284.97,610.70 L291.28,608.93 L297.58,609.46 L303.88,603.92 L310.18,607.80 L316.49,607.33 L322.79,599.75 L329.09,599.41 L335.39,599.41 L341.69,597.63 L348.00,591.63 L354.30,588.89 L360.60,589.68 L366.90,587.35 L373.21,583.61 L379.51,586.27 L385.81,608.67 L392.11,608.67 L398.42,610.41 L404.72,618.18 L411.02,608.98 L417.32,613.03 L423.63,609.14 L429.93,606.08 L436.23,604.63 L442.53,614.31 L448.84,607.83 L455.14,600.66 L461.44,598.63 L467.74,597.21 L474.05,593.66 L480.35,592.26 L486.65,598.82 L492.95,614.82 L499.25,612.46 L505.56,608.03 L511.86,630.01 L518.16,628.61 L524.46,644.35 L530.77,626.44 L537.07,625.03 L543.37,625.57 L549.67,619.29 L555.98,615.09 L562.28,610.78 L568.58,605.84 L574.88,601.15 L581.19,599.15 L587.49,601.19 L593.79,610.15 L600.09,611.29 L606.40,628.18 L612.70,644.84 L619.00,647.49 L625.30,633.14 L631.61,634.55 L637.91,627.57 L644.21,624.77 L650.51,617.28 L656.81,608.70 L663.12,607.37 L669.42,604.97 L675.72,598.50 L682.02,597.93 L688.33,604.88 L694.63,603.85 L700.93,587.11 L707.23,600.48 L713.54,609.05 L719.84,602.33 L726.14,622.58 L732.44,624.00 L738.75,616.00 L745.05,621.90 L751.35,619.58 L757.65,614.95 L763.96,613.83 L770.26,611.72 L776.56,609.86 L782.86,606.46 L789.17,604.95 L795.47,624.40 L801.77,627.28 L808.07,626.05 L814.37,631.78 L820.68,640.98 L826.98,644.36 L833.28,636.90 L839.58,647.02 L845.89,641.70 L852.19,643.21 L858.49,638.98 L864.79,646.23 L871.10,645.97 L877.40,647.90 L883.70,654.26 L890.00,651.84 L896.31,627.21 L902.61,636.33 L908.91,636.57 L915.21,632.34 L921.52,624.79 L927.82,630.68 L934.12,641.57 L940.42,645.37 L946.73,638.63 L953.03,647.63 L959.33,641.53 L965.63,633.63 L971.93,632.20 L978.24,640.55 L984.54,630.68 L990.84,628.96 L997.14,631.27 L1003.45,639.47 L1009.75,629.37 L1016.05,633.47 L1022.35,632.88 L1028.66,628.23 L1034.96,632.65 L1041.26,645.27 L1047.56,640.50 L1053.87,630.18 L1060.17,622.92 L1066.47,620.91 L1072.77,627.84 L1079.08,630.02 L1085.38,637.81 L1091.68,639.40 L1097.98,635.78 L1104.29,633.26 L1110.59,635.76 L1116.89,639.43 L1123.19,633.84 L1129.49,638.47 L1135.80,635.09 L1142.10,626.33 L1148.40,623.77 L1154.70,619.31 L1161.01,612.40 L1167.31,608.89 L1173.61,608.21 L1179.91,615.73 L1186.22,619.98 L1192.52,608.67 L1198.82,605.42 L1205.12,601.12 L1211.43,605.05 L1217.73,603.43 L1224.03,628.05 L1230.33,618.75 L1236.64,616.60 L1242.94,624.64 L1249.24,635.09 L1255.54,640.27 L1261.85,642.20 L1268.15,642.81 L1274.45,645.81 L1280.75,650.17 L1287.05,649.58 L1293.36,641.87 L1299.66,645.41 L1305.96,639.05 L1312.26,639.05 L1318.57,640.27 L1324.87,623.05 L1331.17,638.08 L1337.47,626.33 L1343.78,621.07 L1350.08,628.31 L1356.38,620.84 L1362.68,625.01 L1368.99,618.46 L1375.29,618.46 L1381.59,614.13 L1387.89,607.06 L1394.20,613.13 L1400.50,620.98 L1406.80,618.94 L1413.10,634.88 L1419.41,632.79 L1425.71,628.77 L1432.01,634.78 L1438.31,636.93 L1444.61,639.77 L1450.92,629.77 L1457.22,623.87 L1463.52,621.02 L1469.82,616.87 L1476.13,620.63 L1482.43,628.61 L1488.73,637.63 L1495.03,645.91 L1501.34,634.47 L1507.64,633.44 L1513.94,638.78 L1520.24,641.90 L1526.55,653.10 L1532.85,649.99 L1539.15,636.77 L1545.45,644.80 L1551.76,628.25 L1558.06,625.92 L1564.36,638.38 L1570.66,632.25 L1576.97,637.64 L1583.27,632.81 L1589.57,639.88 L1595.87,629.70 L1602.17,635.75 L1608.48,637.07 L1614.78,628.08 L1621.08,632.31 L1627.38,630.04 L1633.69,621.46 L1639.99,617.24 L1646.29,614.62 L1652.59,623.51 L1658.90,628.94 L1665.20,632.70 L1671.50,632.70 L1677.80,632.18 L1684.11,635.88 L1690.41,643.13 L1696.71,641.15 L1703.01,637.88 L1709.32,633.12 L1715.62,650.04 L1721.92,651.30 L1728.22,639.33 L1734.53,644.42 L1740.83,651.75 L1747.13,640.68 L1753.43,636.54 L1759.73,640.05 L1766.04,640.60 L1772.34,628.14 L1778.64,611.03 L1784.94,606.19 L1791.25,630.48 L1797.55,627.14 L1803.85,624.55 L1810.15,625.56 L1816.46,632.16 L1822.76,627.36 L1829.06,632.04" stroke="#5555ff" stroke-width="1.3" stroke-opacity="0.65"/>
</g>
<g clip-path="url(#sc)" fill="none" stroke-linejoin="round">
<path d="M7.67,731.39 L13.97,741.66 L20.27,748.29 L26.57,749.65 L32.88,745.51 L39.18,741.00 L45.48,738.80 L51.78,744.05 L58.09,748.48 L64.39,751.15 L70.69,749.57 L76.99,747.78 L83.30,746.34 L89.60,742.24 L95.90,733.89 L102.20,719.07 L108.51,706.77 L114.81,698.48 L121.11,696.14 L127.41,694.94 L133.72,696.22 L140.02,698.40 L146.32,703.27 L152.62,705.83 L158.93,709.00 L165.23,708.00 L171.53,709.16 L177.83,710.87 L184.13,716.29 L190.44,720.96 L196.74,722.50 L203.04,720.10 L209.34,720.57 L215.65,726.52 L221.95,734.95 L228.25,736.27 L234.55,733.49 L240.86,729.54 L247.16,728.18 L253.46,723.33 L259.76,723.13 L266.07,725.46 L272.37,731.10 L278.67,726.71 L284.97,717.16 L291.28,705.78 L297.58,700.47 L303.88,698.39 L310.18,699.04 L316.49,699.52 L322.79,700.39 L329.09,701.00 L335.39,701.85 L341.69,703.16 L348.00,703.03 L354.30,701.39 L360.60,700.45 L366.90,701.63 L373.21,703.84 L379.51,704.29 L385.81,707.13 L392.11,714.30 L398.42,725.20 L404.72,733.53 L411.02,736.07 L417.32,732.94 L423.63,724.84 L429.93,717.04 L436.23,710.73 L442.53,710.57 L448.84,711.60 L455.14,712.51 L461.44,707.92 L467.74,702.49 L474.05,698.15 L480.35,697.69 L486.65,699.68 L492.95,707.17 L499.25,716.47 L505.56,723.89 L511.86,725.60 L518.16,727.00 L524.46,733.64 L530.77,738.09 L537.07,738.21 L543.37,727.59 L549.67,717.18 L555.98,707.02 L562.28,702.30 L568.58,699.57 L574.88,698.97 L581.19,698.39 L587.49,698.74 L593.79,701.64 L600.09,709.28 L606.40,721.45 L612.70,735.00 L619.00,745.33 L625.30,748.03 L631.61,744.02 L637.91,735.25 L644.21,725.90 L650.51,716.23 L656.81,707.96 L663.12,702.35 L669.42,699.86 L675.72,699.80 L682.02,699.86 L688.33,701.47 L694.63,705.88 L700.93,709.86 L707.23,713.28 L713.54,714.71 L719.84,719.45 L726.14,725.52 L732.44,732.33 L738.75,736.50 L745.05,736.79 L751.35,732.20 L757.65,725.32 L763.96,715.87 L770.26,707.52 L776.56,700.88 L782.86,698.65 L789.17,698.37 L795.47,703.72 L801.77,713.26 L808.07,726.88 L814.37,734.64 L820.68,738.34 L826.98,739.08 L833.28,740.57 L839.58,742.58 L845.89,742.84 L852.19,743.70 L858.49,741.10 L864.79,740.85 L871.10,739.48 L877.40,742.09 L883.70,743.17 L890.00,745.98 L896.31,742.02 L902.61,734.55 L908.91,723.34 L915.21,719.74 L921.52,716.78 L927.82,715.83 L934.12,715.98 L940.42,724.96 L946.73,736.27 L953.03,745.10 L959.33,746.70 L965.63,743.84 L971.93,734.88 L978.24,726.83 L984.54,720.24 L990.84,717.86 L997.14,712.66 L1003.45,714.36 L1009.75,718.31 L1016.05,727.29 L1022.35,727.72 L1028.66,725.78 L1034.96,721.00 L1041.26,721.60 L1047.56,727.15 L1053.87,732.60 L1060.17,729.49 L1066.47,718.11 L1072.77,707.49 L1079.08,705.66 L1085.38,712.13 L1091.68,721.65 L1097.98,729.13 L1104.29,731.18 L1110.59,728.53 L1116.89,726.07 L1123.19,725.41 L1129.49,728.93 L1135.80,730.56 L1142.10,729.91 L1148.40,723.24 L1154.70,713.52 L1161.01,704.74 L1167.31,698.54 L1173.61,697.07 L1179.91,698.89 L1186.22,705.87 L1192.52,711.60 L1198.82,713.10 L1205.12,706.49 L1211.43,701.87 L1217.73,700.89 L1224.03,710.51 L1230.33,720.84 L1236.64,730.92 L1242.94,733.06 L1249.24,735.79 L1255.54,739.67 L1261.85,745.42 L1268.15,747.02 L1274.45,746.06 L1280.75,745.10 L1287.05,744.96 L1293.36,742.43 L1299.66,738.29 L1305.96,732.03 L1312.26,726.69 L1318.57,721.16 L1324.87,716.53 L1331.17,716.17 L1337.47,715.95 L1343.78,717.24 L1350.08,713.69 L1356.38,710.21 L1362.68,708.85 L1368.99,706.97 L1375.29,707.95 L1381.59,705.75 L1387.89,705.84 L1394.20,703.23 L1400.50,705.87 L1406.80,712.29 L1413.10,725.14 L1419.41,735.39 L1425.71,743.06 L1432.01,744.19 L1438.31,744.46 L1444.61,743.48 L1450.92,739.86 L1457.22,730.63 L1463.52,718.01 L1469.82,707.95 L1476.13,703.33 L1482.43,706.73 L1488.73,717.01 L1495.03,732.28 L1501.34,742.38 L1507.64,744.47 L1513.94,738.65 L1520.24,734.50 L1526.55,735.53 L1532.85,740.58 L1539.15,742.98 L1545.45,741.25 L1551.76,733.29 L1558.06,725.55 L1564.36,719.06 L1570.66,720.51 L1576.97,727.66 L1583.27,733.85 L1589.57,739.81 L1595.87,737.71 L1602.17,737.62 L1608.48,734.18 L1614.78,733.42 L1621.08,729.74 L1627.38,722.41 L1633.69,716.41 L1639.99,709.91 L1646.29,707.02 L1652.59,707.23 L1658.90,714.41 L1665.20,727.13 L1671.50,739.79 L1677.80,748.81 L1684.11,751.98 L1690.41,751.50 L1696.71,749.22 L1703.01,746.49 L1709.32,740.96 L1715.62,737.02 L1721.92,733.94 L1728.22,734.75 L1734.53,732.86 L1740.83,732.71 L1747.13,731.50 L1753.43,729.95 L1759.73,724.18 L1766.04,719.17 L1772.34,714.85 L1778.64,712.30 L1784.94,707.29 L1791.25,708.83 L1797.55,713.96 L1803.85,725.62 L1810.15,732.55 L1816.46,739.15 L1822.76,740.64 L1829.06,743.05" stroke="#ff44ff" stroke-width="1.3" stroke-opacity="0.75"/>
<path d="M7.67,744.84 L13.97,748.83 L20.27,751.20 L26.57,748.92 L32.88,736.40 L39.18,737.68 L45.48,742.34 L51.78,752.13 L58.09,750.98 L64.39,750.35 L70.69,747.38 L76.99,745.61 L83.30,746.03 L89.60,735.07 L95.90,720.56 L102.20,701.59 L108.51,698.16 L114.81,695.70 L121.11,694.56 L127.41,694.57 L133.72,699.53 L140.02,701.11 L146.32,709.18 L152.62,707.19 L158.93,710.63 L165.23,706.19 L171.53,710.65 L177.83,715.78 L184.13,722.45 L190.44,724.63 L196.74,720.40 L203.04,715.27 L209.34,726.04 L215.65,738.24 L221.95,740.58 L228.25,729.98 L234.55,729.91 L240.86,728.74 L247.16,725.90 L253.46,715.36 L259.76,728.12 L266.07,732.90 L272.37,732.27 L278.67,714.95 L284.97,704.27 L291.28,698.11 L297.58,699.03 L303.88,698.04 L310.18,700.06 L316.49,700.44 L322.79,700.68 L329.09,701.89 L335.39,702.98 L341.69,704.62 L348.00,701.49 L354.30,698.07 L360.60,701.80 L366.90,705.03 L373.21,704.70 L379.51,703.16 L385.81,713.53 L392.11,726.22 L398.42,735.84 L404.72,738.54 L411.02,733.83 L417.32,726.45 L423.63,714.23 L429.93,710.45 L436.23,707.52 L442.53,713.73 L448.84,713.56 L455.14,710.25 L461.44,699.96 L467.74,697.26 L474.05,697.24 L480.35,698.56 L486.65,703.23 L492.95,719.74 L499.25,726.44 L505.56,725.50 L511.86,724.85 L518.16,730.65 L524.46,745.43 L530.77,738.19 L537.07,731.00 L543.37,713.59 L549.67,706.96 L555.98,700.51 L562.28,699.42 L568.58,698.78 L574.88,698.72 L581.19,697.67 L587.49,699.84 L593.79,707.42 L600.09,720.57 L606.40,736.35 L612.70,748.08 L619.00,751.56 L625.30,744.46 L631.61,736.03 L637.91,725.26 L644.21,716.40 L650.51,707.04 L656.81,700.45 L663.12,699.55 L669.42,699.59 L675.72,700.27 L682.02,699.72 L688.33,704.44 L694.63,713.50 L700.93,711.63 L707.23,714.72 L713.54,717.77 L719.84,725.85 L726.14,732.95 L732.44,738.18 L738.75,738.39 L745.05,733.82 L751.35,724.38 L757.65,717.76 L763.96,705.46 L770.26,699.32 L776.56,697.84 L782.86,698.78 L789.17,698.51 L795.47,713.89 L801.77,727.40 L808.07,739.36 L814.37,737.17 L820.68,738.48 L826.98,741.60 L833.28,741.63 L839.58,744.51 L845.89,742.37 L852.19,744.21 L858.49,736.73 L864.79,741.60 L871.10,740.12 L877.40,744.56 L883.70,744.84 L890.00,748.55 L896.31,732.69 L902.61,722.42 L908.91,714.93 L915.21,721.86 L921.52,713.57 L927.82,712.07 L934.12,722.32 L940.42,740.51 L946.73,745.97 L953.03,748.81 L959.33,745.31 L965.63,737.40 L971.93,721.93 L978.24,721.16 L984.54,717.61 L990.84,714.80 L997.14,705.56 L1003.45,722.73 L1009.75,726.65 L1016.05,732.48 L1022.35,724.03 L1028.66,720.83 L1034.96,718.12 L1041.26,725.85 L1047.56,737.47 L1053.87,734.47 L1060.17,716.53 L1066.47,703.34 L1072.77,702.60 L1079.08,711.04 L1085.38,722.76 L1091.68,731.15 L1097.98,733.47 L1104.29,728.91 L1110.59,723.21 L1116.89,726.09 L1123.19,726.94 L1129.49,733.76 L1135.80,730.98 L1142.10,725.00 L1148.40,713.75 L1154.70,701.82 L1161.01,698.66 L1167.31,695.14 L1173.61,697.42 L1179.91,704.11 L1186.22,716.09 L1192.52,714.59 L1198.82,708.62 L1205.12,696.26 L1211.43,700.71 L1217.73,705.71 L1224.03,725.11 L1230.33,731.69 L1236.64,735.97 L1242.94,731.54 L1249.24,739.86 L1255.54,747.59 L1261.85,748.81 L1268.15,744.65 L1274.45,744.73 L1280.75,745.92 L1287.05,744.23 L1293.36,737.15 L1299.66,733.48 L1305.96,725.45 L1312.26,721.13 L1318.57,716.91 L1324.87,711.56 L1331.17,720.04 L1337.47,716.25 L1343.78,715.42 L1350.08,709.41 L1356.38,705.79 L1362.68,711.36 L1368.99,703.75 L1375.29,708.75 L1381.59,704.75 L1387.89,704.03 L1394.20,700.91 L1400.50,712.69 L1406.80,723.27 L1413.10,739.46 L1419.41,743.45 L1425.71,746.28 L1432.01,742.84 L1438.31,744.27 L1444.61,743.33 L1450.92,731.98 L1457.22,716.58 L1463.52,705.46 L1469.82,701.82 L1476.13,702.70 L1482.43,715.66 L1488.73,732.68 L1495.03,748.49 L1501.34,745.97 L1507.64,738.94 L1513.94,731.04 L1520.24,733.52 L1526.55,742.01 L1532.85,746.21 L1539.15,740.72 L1545.45,736.81 L1551.76,722.34 L1558.06,717.51 L1564.36,717.34 L1570.66,726.69 L1576.97,738.97 L1583.27,735.90 L1589.57,744.57 L1595.87,732.67 L1602.17,735.61 L1608.48,734.26 L1614.78,730.40 L1621.08,724.56 L1627.38,712.27 L1633.69,712.40 L1639.99,705.05 L1646.29,703.61 L1652.59,713.02 L1658.90,726.58 L1665.20,741.80 L1671.50,751.00 L1677.80,753.64 L1684.11,751.29 L1690.41,749.58 L1696.71,746.79 L1703.01,743.11 L1709.32,732.97 L1715.62,734.98 L1721.92,733.88 L1728.22,735.39 L1734.53,729.30 L1740.83,733.45 L1747.13,731.74 L1753.43,724.66 L1759.73,716.14 L1766.04,716.72 L1772.34,711.68 L1778.64,708.50 L1784.94,701.70 L1791.25,716.28 L1797.55,723.89 L1803.85,736.70 L1810.15,737.06 L1816.46,743.68 L1822.76,741.18 L1829.06,744.29" stroke="#5555ff" stroke-width="1.3" stroke-opacity="0.6"/>
</g>
<path d="M11,566.5H1906M11,682.5H1906M11,760.5H1906" stroke="#1a1a1a" stroke-width="1.2" fill="none"/>
<path d="M1841.5,10V788" stroke="#2a2a2a" stroke-width="1.2" fill="none"/>
<text x="18.5" y="29.8" fill="#3e3e3e" font-size="12.3" font-weight="normal" text-anchor="start" textLength="238.0" lengthAdjust="spacingAndGlyphs" stroke="#3e3e3e" stroke-width="0.25">LIGHT CRUDE SEP5, 1W, NYM, Trade Price</text>
<text x="264.5" y="29.8" fill="#3e3e3e" font-size="12.3" font-weight="normal" text-anchor="start" textLength="9.0" lengthAdjust="spacingAndGlyphs" stroke="#3e3e3e" stroke-width="0.25">O</text>
<text x="274.0" y="29.8" fill="#5555ff" font-size="12.3" font-weight="normal" text-anchor="start" textLength="30.5" lengthAdjust="spacingAndGlyphs" stroke="#5555ff" stroke-width="0.25">66.85</text>
<text x="313.0" y="29.8" fill="#3e3e3e" font-size="12.3" font-weight="normal" text-anchor="start" textLength="9.5" lengthAdjust="spacingAndGlyphs" stroke="#3e3e3e" stroke-width="0.25">H</text>
<text x="322.5" y="29.8" fill="#5555ff" font-size="12.3" font-weight="normal" text-anchor="start" textLength="30.5" lengthAdjust="spacingAndGlyphs" stroke="#5555ff" stroke-width="0.25">67.74</text>
<text x="361.4" y="29.8" fill="#3e3e3e" font-size="12.3" font-weight="normal" text-anchor="start" textLength="7.6" lengthAdjust="spacingAndGlyphs" stroke="#3e3e3e" stroke-width="0.25">L</text>
<text x="369.0" y="29.8" fill="#5555ff" font-size="12.3" font-weight="normal" text-anchor="start" textLength="30.0" lengthAdjust="spacingAndGlyphs" stroke="#5555ff" stroke-width="0.25">63.64</text>
<text x="406.8" y="29.8" fill="#3e3e3e" font-size="12.3" font-weight="normal" text-anchor="start" textLength="8.7" lengthAdjust="spacingAndGlyphs" stroke="#3e3e3e" stroke-width="0.25">C</text>
<text x="415.5" y="29.8" fill="#5555ff" font-size="12.3" font-weight="normal" text-anchor="start" textLength="30.5" lengthAdjust="spacingAndGlyphs" stroke="#5555ff" stroke-width="0.25">64.95</text>
<text x="455.0" y="29.8" fill="#5555ff" font-size="12.3" font-weight="normal" text-anchor="start" textLength="28.3" lengthAdjust="spacingAndGlyphs" stroke="#5555ff" stroke-width="0.25">-2.38</text>
<text x="488.3" y="29.8" fill="#5555ff" font-size="12.3" font-weight="normal" text-anchor="start" textLength="47.7" lengthAdjust="spacingAndGlyphs" stroke="#5555ff" stroke-width="0.25">(−3.53%)</text>
<text x="554.2" y="29.8" fill="#3e3e3e" font-size="12.3" font-weight="normal" text-anchor="start" textLength="90.2" lengthAdjust="spacingAndGlyphs" stroke="#3e3e3e" stroke-width="0.25">MA (4, close, 0)</text>
<text x="652.5" y="29.8" fill="#ff00ff" font-size="12.3" font-weight="normal" text-anchor="start" textLength="31.3" lengthAdjust="spacingAndGlyphs" stroke="#ff00ff" stroke-width="0.25">66.19</text>
<text x="701.6" y="29.8" fill="#3e3e3e" font-size="12.3" font-weight="normal" text-anchor="start" textLength="89.8" lengthAdjust="spacingAndGlyphs" stroke="#3e3e3e" stroke-width="0.25">MA (9, close, 0)</text>
<text x="799.6" y="29.8" fill="#22cc22" font-size="12.3" font-weight="normal" text-anchor="start" textLength="31.8" lengthAdjust="spacingAndGlyphs" stroke="#22cc22" stroke-width="0.25">68.18</text>
<text x="849.3" y="29.8" fill="#3e3e3e" font-size="12.3" font-weight="normal" text-anchor="start" textLength="96.4" lengthAdjust="spacingAndGlyphs" stroke="#3e3e3e" stroke-width="0.25">MA (25, close, 0)</text>
<text x="953.6" y="29.8" fill="#b02a4a" font-size="12.3" font-weight="normal" text-anchor="start" textLength="31.6" lengthAdjust="spacingAndGlyphs" stroke="#b02a4a" stroke-width="0.25">65.82</text>
<text x="1003.9" y="29.8" fill="#3e3e3e" font-size="12.3" font-weight="normal" text-anchor="start" textLength="96.4" lengthAdjust="spacingAndGlyphs" stroke="#3e3e3e" stroke-width="0.25">MA (50, close, 0)</text>
<text x="1108.2" y="29.8" fill="#22c4d0" font-size="12.3" font-weight="normal" text-anchor="start" textLength="31.3" lengthAdjust="spacingAndGlyphs" stroke="#22c4d0" stroke-width="0.25">68.57</text>
<text x="1157.6" y="29.8" fill="#3e3e3e" font-size="12.3" font-weight="normal" text-anchor="start" textLength="103.2" lengthAdjust="spacingAndGlyphs" stroke="#3e3e3e" stroke-width="0.25">MA (100, close, 0)</text>
<text x="1269.5" y="29.8" fill="#2a9a2a" font-size="12.3" font-weight="normal" text-anchor="start" textLength="31.3" lengthAdjust="spacingAndGlyphs" stroke="#2a9a2a" stroke-width="0.25">73.93</text>
<text x="1318.6" y="29.8" fill="#3e3e3e" font-size="12.3" font-weight="normal" text-anchor="start" textLength="102.9" lengthAdjust="spacingAndGlyphs" stroke="#3e3e3e" stroke-width="0.25">MA (150, close, 0)</text>
<text x="1430.3" y="29.8" fill="#ff3535" font-size="12.3" font-weight="normal" text-anchor="start" textLength="31.3" lengthAdjust="spacingAndGlyphs" stroke="#ff3535" stroke-width="0.25">75.33</text>
<text x="1479.4" y="29.8" fill="#3e3e3e" font-size="12.3" font-weight="normal" text-anchor="start" textLength="103.5" lengthAdjust="spacingAndGlyphs" stroke="#3e3e3e" stroke-width="0.25">MA (200, close, 0)</text>
<text x="1591.0" y="29.8" fill="#a85c3c" font-size="12.3" font-weight="normal" text-anchor="start" textLength="30.8" lengthAdjust="spacingAndGlyphs" stroke="#a85c3c" stroke-width="0.25">79.91</text>
<text x="1640.3" y="29.8" fill="#3e3e3e" font-size="12.3" font-weight="normal" text-anchor="start" textLength="103.5" lengthAdjust="spacingAndGlyphs" stroke="#3e3e3e" stroke-width="0.25">MA (250, close, 0)</text>
<text x="1752.3" y="29.8" fill="#333333" font-size="12.3" font-weight="normal" text-anchor="start" textLength="30.8" lengthAdjust="spacingAndGlyphs" stroke="#333333" stroke-width="0.25">76.21</text>
<text x="17.6" y="587.2" fill="#3e3e3e" font-size="12.3" font-weight="normal" text-anchor="start" textLength="149.8" lengthAdjust="spacingAndGlyphs" stroke="#3e3e3e" stroke-width="0.25">RSI (9, Wilder, Simple, 14)</text>
<text x="176.4" y="587.2" fill="#5555ff" font-size="12.3" font-weight="normal" text-anchor="start" textLength="44.0" lengthAdjust="spacingAndGlyphs" stroke="#5555ff" stroke-width="0.25">46.3651</text>
<text x="229.3" y="587.2" fill="#2e8b57" font-size="12.3" font-weight="normal" text-anchor="start" textLength="44.2" lengthAdjust="spacingAndGlyphs" stroke="#2e8b57" stroke-width="0.25">49.2512</text>
<text x="292.5" y="587.2" fill="#3e3e3e" font-size="12.3" font-weight="normal" text-anchor="start" textLength="149.8" lengthAdjust="spacingAndGlyphs" stroke="#3e3e3e" stroke-width="0.25">RSI (14, Wilder, Simple, 9)</text>
<text x="450.5" y="587.2" fill="#ff22ff" font-size="12.3" font-weight="normal" text-anchor="start" textLength="44.7" lengthAdjust="spacingAndGlyphs" stroke="#ff22ff" stroke-width="0.25">46.9045</text>
<text x="17.6" y="703.0" fill="#3e3e3e" font-size="12.3" font-weight="normal" text-anchor="start" textLength="185.9" lengthAdjust="spacingAndGlyphs" stroke="#3e3e3e" stroke-width="0.25">Stochastic Slow (5, 3, 3, Simple)</text>
<text x="213.0" y="703.0" fill="#5555ff" font-size="12.3" font-weight="normal" text-anchor="start" textLength="37.2" lengthAdjust="spacingAndGlyphs" stroke="#5555ff" stroke-width="0.25">24.737</text>
<text x="259.2" y="703.0" fill="#ff22ff" font-size="12.3" font-weight="normal" text-anchor="start" textLength="37.1" lengthAdjust="spacingAndGlyphs" stroke="#ff22ff" stroke-width="0.25">23.856</text>
<text x="1848.5" y="324.1" fill="#3e3e3e" font-size="12.3" font-weight="normal" text-anchor="start" textLength="29.3" lengthAdjust="spacingAndGlyphs" stroke="#3e3e3e" stroke-width="0.25">40.00</text>
<text x="1848.5" y="374.1" fill="#3e3e3e" font-size="12.3" font-weight="normal" text-anchor="start" textLength="29.3" lengthAdjust="spacingAndGlyphs" stroke="#3e3e3e" stroke-width="0.25">20.00</text>
<text x="1848.5" y="424.1" fill="#3e3e3e" font-size="12.3" font-weight="normal" text-anchor="start" textLength="23.5" lengthAdjust="spacingAndGlyphs" stroke="#3e3e3e" stroke-width="0.25">0.00</text>
<text x="1848.5" y="474.1" fill="#3e3e3e" font-size="12.3" font-weight="normal" text-anchor="start" textLength="33.8" lengthAdjust="spacingAndGlyphs" stroke="#3e3e3e" stroke-width="0.25">-20.00</text>
<text x="1848.5" y="524.1" fill="#3e3e3e" font-size="12.3" font-weight="normal" text-anchor="start" textLength="33.8" lengthAdjust="spacingAndGlyphs" stroke="#3e3e3e" stroke-width="0.25">-40.00</text>
<text x="1848.5" y="274.1" fill="#3e3e3e" font-size="12.3" font-weight="normal" text-anchor="start" textLength="29.3" lengthAdjust="spacingAndGlyphs" stroke="#3e3e3e" stroke-width="0.25">60.00</text>
<path d="M1842,115.0H1881a2,2 0 0 1 2,2V129.8a2,2 0 0 1 -2,2H1842Z" fill="#a85c3c"/>
<text x="1848.6" y="127.8" fill="#fff" font-size="12.3" font-weight="normal" text-anchor="start" textLength="29.2" lengthAdjust="spacingAndGlyphs" stroke="#fff" stroke-width="0.45">79.91</text>
<path d="M1842,131.8H1881a2,2 0 0 1 2,2V146.6a2,2 0 0 1 -2,2H1842Z" fill="#000"/>
<text x="1848.6" y="144.6" fill="#fff" font-size="12.3" font-weight="normal" text-anchor="start" textLength="29.2" lengthAdjust="spacingAndGlyphs" stroke="#fff" stroke-width="0.45">76.21</text>
<path d="M1842,148.6H1881a2,2 0 0 1 2,2V163.4a2,2 0 0 1 -2,2H1842Z" fill="#ff3333"/>
<text x="1848.6" y="161.4" fill="#fff" font-size="12.3" font-weight="normal" text-anchor="start" textLength="29.2" lengthAdjust="spacingAndGlyphs" stroke="#fff" stroke-width="0.45">75.33</text>
<path d="M1842,165.4H1881a2,2 0 0 1 2,2V180.2a2,2 0 0 1 -2,2H1842Z" fill="#007a00"/>
<text x="1848.6" y="178.2" fill="#fff" font-size="12.3" font-weight="normal" text-anchor="start" textLength="29.2" lengthAdjust="spacingAndGlyphs" stroke="#fff" stroke-width="0.45">73.93</text>
<path d="M1842,182.2H1881a2,2 0 0 1 2,2V197.0a2,2 0 0 1 -2,2H1842Z" fill="#00c4cc"/>
<text x="1848.6" y="195.0" fill="#111" font-size="12.3" font-weight="normal" text-anchor="start" textLength="29.2" lengthAdjust="spacingAndGlyphs" stroke="#111" stroke-width="0.45">68.57</text>
<path d="M1842,199.0H1881a2,2 0 0 1 2,2V213.8a2,2 0 0 1 -2,2H1842Z" fill="#00cc00"/>
<text x="1848.6" y="211.8" fill="#fff" font-size="12.3" font-weight="normal" text-anchor="start" textLength="29.2" lengthAdjust="spacingAndGlyphs" stroke="#fff" stroke-width="0.45">68.18</text>
<path d="M1842,215.8H1881a2,2 0 0 1 2,2V230.6a2,2 0 0 1 -2,2H1842Z" fill="#ff00ff"/>
<text x="1848.6" y="228.6" fill="#fff" font-size="12.3" font-weight="normal" text-anchor="start" textLength="29.2" lengthAdjust="spacingAndGlyphs" stroke="#fff" stroke-width="0.45">66.19</text>
<path d="M1842,232.6H1881a2,2 0 0 1 2,2V247.4a2,2 0 0 1 -2,2H1842Z" fill="#9a0a32"/>
<text x="1848.6" y="245.4" fill="#fff" font-size="12.3" font-weight="normal" text-anchor="start" textLength="29.2" lengthAdjust="spacingAndGlyphs" stroke="#fff" stroke-width="0.45">65.82</text>
<path d="M1842,249.4H1881a2,2 0 0 1 2,2V264.2a2,2 0 0 1 -2,2H1842Z" fill="#3333ff"/>
<text x="1848.6" y="262.2" fill="#fff" font-size="12.3" font-weight="normal" text-anchor="start" textLength="29.2" lengthAdjust="spacingAndGlyphs" stroke="#fff" stroke-width="0.45">64.95</text>
<text x="1851.5" y="643.8" fill="#3e3e3e" font-size="12.3" font-weight="normal" text-anchor="start" textLength="38.0" lengthAdjust="spacingAndGlyphs" stroke="#3e3e3e" stroke-width="0.25">40.0000</text>
<path d="M1842,591.0H1894a2,2 0 0 1 2,2V605.6a2,2 0 0 1 -2,2H1842Z" fill="#007a50"/>
<text x="1848.7" y="603.8" fill="#fff" font-size="12.3" font-weight="normal" text-anchor="start" textLength="41.5" lengthAdjust="spacingAndGlyphs" stroke="#fff" stroke-width="0.45">49.2512</text>
<path d="M1842,607.6H1894a2,2 0 0 1 2,2V622.2a2,2 0 0 1 -2,2H1842Z" fill="#ff00ff"/>
<text x="1848.7" y="620.4" fill="#fff" font-size="12.3" font-weight="normal" text-anchor="start" textLength="41.5" lengthAdjust="spacingAndGlyphs" stroke="#fff" stroke-width="0.45">46.9045</text>
<path d="M1842,624.2H1894a2,2 0 0 1 2,2V638.8a2,2 0 0 1 -2,2H1842Z" fill="#3333ff"/>
<text x="1848.7" y="637.0" fill="#fff" font-size="12.3" font-weight="normal" text-anchor="start" textLength="41.5" lengthAdjust="spacingAndGlyphs" stroke="#fff" stroke-width="0.45">46.3651</text>
<text x="1849.3" y="697.9" fill="#3e3e3e" font-size="12.3" font-weight="normal" text-anchor="start" textLength="40.5" lengthAdjust="spacingAndGlyphs" stroke="#3e3e3e" stroke-width="0.25">100.000</text>
<text x="1849.3" y="728.9" fill="#3e3e3e" font-size="12.3" font-weight="normal" text-anchor="start" textLength="34.0" lengthAdjust="spacingAndGlyphs" stroke="#3e3e3e" stroke-width="0.25">50.000</text>
<svg x="1842" y="683" width="64" height="77" overflow="hidden">
<path d="M0,49.8H45a2,2 0 0 1 2,2V64H0Z" fill="#3333ff"/>
<path d="M0,65.8H45a2,2 0 0 1 2,2V90H0Z" fill="#ff00ff"/>
<text x="6.8" y="62.6" fill="#fff" font-size="12.3" font-weight="normal" text-anchor="start" textLength="34.0" lengthAdjust="spacingAndGlyphs" stroke="#fff" stroke-width="0.45">24.737</text>
<text x="6.8" y="78.6" fill="#fff" font-size="12.3" font-weight="normal" text-anchor="start" textLength="34.0" lengthAdjust="spacingAndGlyphs" stroke="#fff" stroke-width="0.45">23.856</text>
</svg>
<text x="77.0" y="778.0" fill="#333" font-size="12.3" font-weight="normal" text-anchor="middle" textLength="18.3" lengthAdjust="spacingAndGlyphs" stroke="#333" stroke-width="0.25">Apr</text>
<text x="158.9" y="778.0" fill="#333" font-size="12.3" font-weight="normal" text-anchor="middle" textLength="15.1" lengthAdjust="spacingAndGlyphs" stroke="#333" stroke-width="0.25">Jul</text>
<text x="240.9" y="778.0" fill="#333" font-size="12.3" font-weight="normal" text-anchor="middle" textLength="19.5" lengthAdjust="spacingAndGlyphs" stroke="#333" stroke-width="0.25">Oct</text>
<text x="322.8" y="778.0" fill="#333" font-size="12.3" font-weight="bold" text-anchor="middle" textLength="26.8" lengthAdjust="spacingAndGlyphs">2021</text>
<text x="404.7" y="778.0" fill="#333" font-size="12.3" font-weight="normal" text-anchor="middle" textLength="18.3" lengthAdjust="spacingAndGlyphs" stroke="#333" stroke-width="0.25">Apr</text>
<text x="486.6" y="778.0" fill="#333" font-size="12.3" font-weight="normal" text-anchor="middle" textLength="15.1" lengthAdjust="spacingAndGlyphs" stroke="#333" stroke-width="0.25">Jul</text>
<text x="568.6" y="778.0" fill="#333" font-size="12.3" font-weight="normal" text-anchor="middle" textLength="19.5" lengthAdjust="spacingAndGlyphs" stroke="#333" stroke-width="0.25">Oct</text>
<text x="650.5" y="778.0" fill="#333" font-size="12.3" font-weight="bold" text-anchor="middle" textLength="26.8" lengthAdjust="spacingAndGlyphs">2022</text>
<text x="732.4" y="778.0" fill="#333" font-size="12.3" font-weight="normal" text-anchor="middle" textLength="18.3" lengthAdjust="spacingAndGlyphs" stroke="#333" stroke-width="0.25">Apr</text>
<text x="814.4" y="778.0" fill="#333" font-size="12.3" font-weight="normal" text-anchor="middle" textLength="15.1" lengthAdjust="spacingAndGlyphs" stroke="#333" stroke-width="0.25">Jul</text>
<text x="896.3" y="778.0" fill="#333" font-size="12.3" font-weight="normal" text-anchor="middle" textLength="19.5" lengthAdjust="spacingAndGlyphs" stroke="#333" stroke-width="0.25">Oct</text>
<text x="978.2" y="778.0" fill="#333" font-size="12.3" font-weight="bold" text-anchor="middle" textLength="26.8" lengthAdjust="spacingAndGlyphs">2023</text>
<text x="1060.2" y="778.0" fill="#333" font-size="12.3" font-weight="normal" text-anchor="middle" textLength="18.3" lengthAdjust="spacingAndGlyphs" stroke="#333" stroke-width="0.25">Apr</text>
<text x="1142.1" y="778.0" fill="#333" font-size="12.3" font-weight="normal" text-anchor="middle" textLength="15.1" lengthAdjust="spacingAndGlyphs" stroke="#333" stroke-width="0.25">Jul</text>
<text x="1224.0" y="778.0" fill="#333" font-size="12.3" font-weight="normal" text-anchor="middle" textLength="19.5" lengthAdjust="spacingAndGlyphs" stroke="#333" stroke-width="0.25">Oct</text>
<text x="1306.0" y="778.0" fill="#333" font-size="12.3" font-weight="bold" text-anchor="middle" textLength="26.8" lengthAdjust="spacingAndGlyphs">2024</text>
<text x="1387.9" y="778.0" fill="#333" font-size="12.3" font-weight="normal" text-anchor="middle" textLength="18.3" lengthAdjust="spacingAndGlyphs" stroke="#333" stroke-width="0.25">Apr</text>
<text x="1469.8" y="778.0" fill="#333" font-size="12.3" font-weight="normal" text-anchor="middle" textLength="15.1" lengthAdjust="spacingAndGlyphs" stroke="#333" stroke-width="0.25">Jul</text>
<text x="1558.1" y="778.0" fill="#333" font-size="12.3" font-weight="normal" text-anchor="middle" textLength="19.5" lengthAdjust="spacingAndGlyphs" stroke="#333" stroke-width="0.25">Oct</text>
<text x="1640.0" y="778.0" fill="#333" font-size="12.3" font-weight="bold" text-anchor="middle" textLength="26.8" lengthAdjust="spacingAndGlyphs">2025</text>
<text x="1721.9" y="778.0" fill="#333" font-size="12.3" font-weight="normal" text-anchor="middle" textLength="18.3" lengthAdjust="spacingAndGlyphs" stroke="#333" stroke-width="0.25">Apr</text>
<text x="1803.9" y="778.0" fill="#333" font-size="12.3" font-weight="normal" text-anchor="middle" textLength="15.1" lengthAdjust="spacingAndGlyphs" stroke="#333" stroke-width="0.25">Jul</text>
<rect x="1845.5" y="14" width="56" height="49" rx="4" fill="#fff" stroke="#f0f0f0" stroke-width="1"/>
<text x="1853.7" y="30.8" fill="#555" font-size="12.3" font-weight="normal" text-anchor="start" textLength="20.5" lengthAdjust="spacingAndGlyphs" stroke="#555" stroke-width="0.25">USD</text>
<text x="1853.7" y="56.2" fill="#555" font-size="12.3" font-weight="normal" text-anchor="start" textLength="16.0" lengthAdjust="spacingAndGlyphs" stroke="#555" stroke-width="0.25">bbl</text>
<path d="M1833,798h1v1h-1zM1837,798h1v1h-1zM1838,798h1v1h-1zM1855,798h1v1h-1zM1833,799h1v1h-1zM1836,799h1v1h-1zM1837,799h1v1h-1zM1838,799h1v1h-1zM1839,799h1v1h-1zM1854,799h1v1h-1zM1855,799h1v1h-1zM1856,799h1v1h-1zM1857,799h1v1h-1zM1858,799h1v1h-1zM1833,800h1v1h-1zM1834,800h1v1h-1zM1836,800h1v1h-1zM1837,800h1v1h-1zM1838,800h1v1h-1zM1839,800h1v1h-1zM1840,800h1v1h-1zM1842,800h1v1h-1zM1851,800h1v1h-1zM1853,800h1v1h-1zM1854,800h1v1h-1zM1855,800h1v1h-1zM1857,800h1v1h-1zM1858,800h1v1h-1zM1859,800h1v1h-1zM1833,801h1v1h-1zM1834,801h1v1h-1zM1835,801h1v1h-1zM1837,801h1v1h-1zM1838,801h1v1h-1zM1839,801h1v1h-1zM1840,801h1v1h-1zM1841,801h1v1h-1zM1843,801h1v1h-1zM1844,801h1v1h-1zM1845,801h1v1h-1zM1846,801h1v1h-1zM1847,801h1v1h-1zM1848,801h1v1h-1zM1849,801h1v1h-1zM1851,801h1v1h-1zM1852,801h1v1h-1zM1854,801h1v1h-1zM1855,801h1v1h-1zM1857,801h1v1h-1zM1858,801h1v1h-1zM1859,801h1v1h-1zM1832,802h1v1h-1zM1833,802h1v1h-1zM1834,802h1v1h-1zM1835,802h1v1h-1zM1836,802h1v1h-1zM1837,802h1v1h-1zM1838,802h1v1h-1zM1839,802h1v1h-1zM1840,802h1v1h-1zM1841,802h1v1h-1zM1842,802h1v1h-1zM1843,802h1v1h-1zM1844,802h1v1h-1zM1845,802h1v1h-1zM1846,802h1v1h-1zM1847,802h1v1h-1zM1848,802h1v1h-1zM1849,802h1v1h-1zM1850,802h1v1h-1zM1851,802h1v1h-1zM1852,802h1v1h-1zM1853,802h1v1h-1zM1854,802h1v1h-1zM1855,802h1v1h-1zM1856,802h1v1h-1zM1857,802h1v1h-1zM1858,802h1v1h-1zM1859,802h1v1h-1zM1860,802h1v1h-1zM1833,803h1v1h-1zM1834,803h1v1h-1zM1835,803h1v1h-1zM1837,803h1v1h-1zM1838,803h1v1h-1zM1839,803h1v1h-1zM1840,803h1v1h-1zM1841,803h1v1h-1zM1842,803h1v1h-1zM1843,803h1v1h-1zM1844,803h1v1h-1zM1847,803h1v1h-1zM1848,803h1v1h-1zM1849,803h1v1h-1zM1850,803h1v1h-1zM1851,803h1v1h-1zM1852,803h1v1h-1zM1853,803h1v1h-1zM1854,803h1v1h-1zM1855,803h1v1h-1zM1856,803h1v1h-1zM1858,803h1v1h-1zM1859,803h1v1h-1zM1860,803h1v1h-1zM1833,804h1v1h-1zM1834,804h1v1h-1zM1835,804h1v1h-1zM1836,804h1v1h-1zM1837,804h1v1h-1zM1838,804h1v1h-1zM1839,804h1v1h-1zM1840,804h1v1h-1zM1841,804h1v1h-1zM1842,804h1v1h-1zM1843,804h1v1h-1zM1844,804h1v1h-1zM1845,804h1v1h-1zM1847,804h1v1h-1zM1848,804h1v1h-1zM1849,804h1v1h-1zM1850,804h1v1h-1zM1851,804h1v1h-1zM1852,804h1v1h-1zM1853,804h1v1h-1zM1854,804h1v1h-1zM1855,804h1v1h-1zM1856,804h1v1h-1zM1857,804h1v1h-1zM1858,804h1v1h-1zM1859,804h1v1h-1zM1860,804h1v1h-1zM1834,805h1v1h-1zM1835,805h1v1h-1zM1836,805h1v1h-1zM1837,805h1v1h-1zM1838,805h1v1h-1zM1839,805h1v1h-1zM1840,805h1v1h-1zM1841,805h1v1h-1zM1842,805h1v1h-1zM1847,805h1v1h-1zM1848,805h1v1h-1zM1849,805h1v1h-1zM1850,805h1v1h-1zM1851,805h1v1h-1zM1852,805h1v1h-1zM1854,805h1v1h-1zM1855,805h1v1h-1zM1856,805h1v1h-1zM1857,805h1v1h-1zM1832,806h1v1h-1zM1833,806h1v1h-1zM1837,806h1v1h-1zM1838,806h1v1h-1zM1839,806h1v1h-1zM1840,806h1v1h-1zM1841,806h1v1h-1zM1842,806h1v1h-1zM1844,806h1v1h-1zM1848,806h1v1h-1zM1849,806h1v1h-1zM1850,806h1v1h-1zM1851,806h1v1h-1zM1852,806h1v1h-1zM1856,806h1v1h-1zM1857,806h1v1h-1zM1859,806h1v1h-1zM1860,806h1v1h-1zM1832,807h1v1h-1zM1834,807h1v1h-1zM1836,807h1v1h-1zM1837,807h1v1h-1zM1838,807h1v1h-1zM1841,807h1v1h-1zM1842,807h1v1h-1zM1846,807h1v1h-1zM1847,807h1v1h-1zM1848,807h1v1h-1zM1851,807h1v1h-1zM1855,807h1v1h-1zM1856,807h1v1h-1zM1859,807h1v1h-1zM1836,808h1v1h-1zM1837,808h1v1h-1zM1839,808h1v1h-1zM1840,808h1v1h-1zM1842,808h1v1h-1zM1843,808h1v1h-1zM1847,808h1v1h-1zM1848,808h1v1h-1zM1849,808h1v1h-1zM1850,808h1v1h-1zM1852,808h1v1h-1zM1853,808h1v1h-1zM1854,808h1v1h-1zM1856,808h1v1h-1zM1857,808h1v1h-1zM1858,808h1v1h-1zM1834,809h1v1h-1zM1835,809h1v1h-1zM1836,809h1v1h-1zM1839,809h1v1h-1zM1840,809h1v1h-1zM1843,809h1v1h-1zM1846,809h1v1h-1zM1847,809h1v1h-1zM1848,809h1v1h-1zM1850,809h1v1h-1zM1851,809h1v1h-1zM1853,809h1v1h-1zM1854,809h1v1h-1zM1856,809h1v1h-1zM1857,809h1v1h-1zM1859,809h1v1h-1zM1834,810h1v1h-1zM1835,810h1v1h-1zM1841,810h1v1h-1zM1842,810h1v1h-1zM1843,810h1v1h-1zM1844,810h1v1h-1zM1845,810h1v1h-1zM1846,810h1v1h-1zM1847,810h1v1h-1zM1851,810h1v1h-1zM1852,810h1v1h-1zM1856,810h1v1h-1zM1857,810h1v1h-1zM1858,810h1v1h-1zM1835,811h1v1h-1zM1836,811h1v1h-1zM1843,811h1v1h-1zM1844,811h1v1h-1zM1845,811h1v1h-1zM1846,811h1v1h-1zM1847,811h1v1h-1zM1848,811h1v1h-1zM1849,811h1v1h-1zM1856,811h1v1h-1zM1857,811h1v1h-1zM1836,812h1v1h-1zM1837,812h1v1h-1zM1844,812h1v1h-1zM1845,812h1v1h-1zM1846,812h1v1h-1zM1847,812h1v1h-1zM1848,812h1v1h-1zM1849,812h1v1h-1zM1856,812h1v1h-1zM1857,812h1v1h-1zM1835,813h1v1h-1zM1836,813h1v1h-1zM1846,813h1v1h-1zM1847,813h1v1h-1zM1848,813h1v1h-1zM1857,813h1v1h-1zM1835,814h1v1h-1zM1838,814h1v1h-1zM1839,814h1v1h-1zM1843,814h1v1h-1zM1850,814h1v1h-1zM1851,814h1v1h-1zM1855,814h1v1h-1zM1839,815h1v1h-1zM1843,815h1v1h-1zM1848,815h1v1h-1zM1851,815h1v1h-1zM1855,815h1v1h-1zM1846,816h1v1h-1zM1847,816h1v1h-1z" fill="#1a1aff"/>
<text x="1866.5" y="812.8" fill="#1a1aff" font-size="15.0" font-weight="bold" text-anchor="start" textLength="39.5" lengthAdjust="spacingAndGlyphs">LSEG</text>
</svg></body></html>
